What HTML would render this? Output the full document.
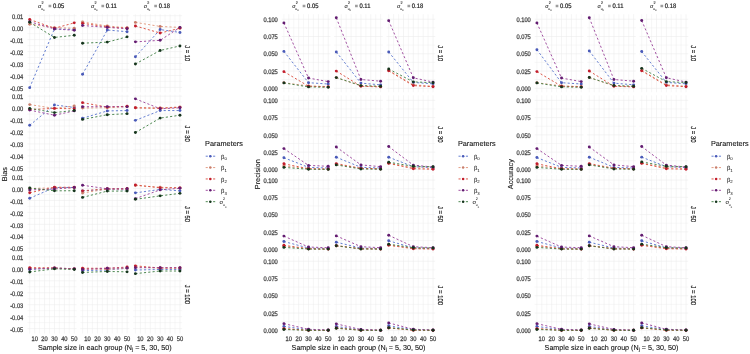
<!DOCTYPE html>
<html><head><meta charset="utf-8"><style>
html,body{margin:0;padding:0;background:#fff;width:750px;height:354px;overflow:hidden}
svg{display:block;will-change:transform}
text{font-family:"Liberation Sans",sans-serif;text-rendering:geometricPrecision}
.mj{stroke:#ebebeb;stroke-width:0.55}
.mn{stroke:#ebebeb;stroke-width:0.4}
.dl{fill:none;stroke-width:0.9;stroke-dasharray:2.15 2.15}
.tk{font-size:5.75px;fill:#4a4a4a;stroke:#4a4a4a;stroke-width:0.25}
.st{font-size:5.85px;fill:#262626;stroke:#262626;stroke-width:0.2}
.at{font-size:7.3px;fill:#111;stroke:#111;stroke-width:0.1}
.lt{font-size:7.3px;fill:#111;stroke:#111;stroke-width:0.08}
.ll{font-size:5.85px;fill:#000}
</style></head><body>
<svg width="750" height="354" viewBox="0 0 750 354">
<rect width="750" height="354" fill="#fff"/>
<line x1="27.47" y1="21.68" x2="76.48" y2="21.68" class="mn"/><line x1="27.47" y1="33.62" x2="76.48" y2="33.62" class="mn"/><line x1="27.47" y1="45.58" x2="76.48" y2="45.58" class="mn"/><line x1="27.47" y1="57.53" x2="76.48" y2="57.53" class="mn"/><line x1="27.47" y1="69.48" x2="76.48" y2="69.48" class="mn"/><line x1="27.47" y1="81.42" x2="76.48" y2="81.42" class="mn"/><line x1="29.7" y1="14.2" x2="29.7" y2="92.3" class="mn"/><line x1="39.6" y1="14.2" x2="39.6" y2="92.3" class="mn"/><line x1="49.5" y1="14.2" x2="49.5" y2="92.3" class="mn"/><line x1="59.4" y1="14.2" x2="59.4" y2="92.3" class="mn"/><line x1="69.3" y1="14.2" x2="69.3" y2="92.3" class="mn"/><line x1="27.47" y1="15.7" x2="76.48" y2="15.7" class="mj"/><line x1="27.47" y1="27.65" x2="76.48" y2="27.65" class="mj"/><line x1="27.47" y1="39.6" x2="76.48" y2="39.6" class="mj"/><line x1="27.47" y1="51.55" x2="76.48" y2="51.55" class="mj"/><line x1="27.47" y1="63.5" x2="76.48" y2="63.5" class="mj"/><line x1="27.47" y1="75.45" x2="76.48" y2="75.45" class="mj"/><line x1="27.47" y1="87.4" x2="76.48" y2="87.4" class="mj"/><line x1="34.65" y1="14.2" x2="34.65" y2="92.3" class="mj"/><line x1="44.55" y1="14.2" x2="44.55" y2="92.3" class="mj"/><line x1="54.45" y1="14.2" x2="54.45" y2="92.3" class="mj"/><line x1="64.35" y1="14.2" x2="64.35" y2="92.3" class="mj"/><line x1="74.25" y1="14.2" x2="74.25" y2="92.3" class="mj"/>
<line x1="80.32" y1="21.68" x2="129.33" y2="21.68" class="mn"/><line x1="80.32" y1="33.62" x2="129.33" y2="33.62" class="mn"/><line x1="80.32" y1="45.58" x2="129.33" y2="45.58" class="mn"/><line x1="80.32" y1="57.53" x2="129.33" y2="57.53" class="mn"/><line x1="80.32" y1="69.48" x2="129.33" y2="69.48" class="mn"/><line x1="80.32" y1="81.42" x2="129.33" y2="81.42" class="mn"/><line x1="82.55" y1="14.2" x2="82.55" y2="92.3" class="mn"/><line x1="92.45" y1="14.2" x2="92.45" y2="92.3" class="mn"/><line x1="102.35" y1="14.2" x2="102.35" y2="92.3" class="mn"/><line x1="112.25" y1="14.2" x2="112.25" y2="92.3" class="mn"/><line x1="122.15" y1="14.2" x2="122.15" y2="92.3" class="mn"/><line x1="80.32" y1="15.7" x2="129.33" y2="15.7" class="mj"/><line x1="80.32" y1="27.65" x2="129.33" y2="27.65" class="mj"/><line x1="80.32" y1="39.6" x2="129.33" y2="39.6" class="mj"/><line x1="80.32" y1="51.55" x2="129.33" y2="51.55" class="mj"/><line x1="80.32" y1="63.5" x2="129.33" y2="63.5" class="mj"/><line x1="80.32" y1="75.45" x2="129.33" y2="75.45" class="mj"/><line x1="80.32" y1="87.4" x2="129.33" y2="87.4" class="mj"/><line x1="87.5" y1="14.2" x2="87.5" y2="92.3" class="mj"/><line x1="97.4" y1="14.2" x2="97.4" y2="92.3" class="mj"/><line x1="107.3" y1="14.2" x2="107.3" y2="92.3" class="mj"/><line x1="117.2" y1="14.2" x2="117.2" y2="92.3" class="mj"/><line x1="127.1" y1="14.2" x2="127.1" y2="92.3" class="mj"/>
<line x1="133.17" y1="21.68" x2="182.18" y2="21.68" class="mn"/><line x1="133.17" y1="33.62" x2="182.18" y2="33.62" class="mn"/><line x1="133.17" y1="45.58" x2="182.18" y2="45.58" class="mn"/><line x1="133.17" y1="57.53" x2="182.18" y2="57.53" class="mn"/><line x1="133.17" y1="69.48" x2="182.18" y2="69.48" class="mn"/><line x1="133.17" y1="81.42" x2="182.18" y2="81.42" class="mn"/><line x1="135.4" y1="14.2" x2="135.4" y2="92.3" class="mn"/><line x1="145.3" y1="14.2" x2="145.3" y2="92.3" class="mn"/><line x1="155.2" y1="14.2" x2="155.2" y2="92.3" class="mn"/><line x1="165.1" y1="14.2" x2="165.1" y2="92.3" class="mn"/><line x1="175" y1="14.2" x2="175" y2="92.3" class="mn"/><line x1="133.17" y1="15.7" x2="182.18" y2="15.7" class="mj"/><line x1="133.17" y1="27.65" x2="182.18" y2="27.65" class="mj"/><line x1="133.17" y1="39.6" x2="182.18" y2="39.6" class="mj"/><line x1="133.17" y1="51.55" x2="182.18" y2="51.55" class="mj"/><line x1="133.17" y1="63.5" x2="182.18" y2="63.5" class="mj"/><line x1="133.17" y1="75.45" x2="182.18" y2="75.45" class="mj"/><line x1="133.17" y1="87.4" x2="182.18" y2="87.4" class="mj"/><line x1="140.35" y1="14.2" x2="140.35" y2="92.3" class="mj"/><line x1="150.25" y1="14.2" x2="150.25" y2="92.3" class="mj"/><line x1="160.15" y1="14.2" x2="160.15" y2="92.3" class="mj"/><line x1="170.05" y1="14.2" x2="170.05" y2="92.3" class="mj"/><line x1="179.95" y1="14.2" x2="179.95" y2="92.3" class="mj"/>
<line x1="27.47" y1="102.08" x2="76.48" y2="102.08" class="mn"/><line x1="27.47" y1="114.03" x2="76.48" y2="114.03" class="mn"/><line x1="27.47" y1="125.98" x2="76.48" y2="125.98" class="mn"/><line x1="27.47" y1="137.93" x2="76.48" y2="137.93" class="mn"/><line x1="27.47" y1="149.88" x2="76.48" y2="149.88" class="mn"/><line x1="27.47" y1="161.82" x2="76.48" y2="161.82" class="mn"/><line x1="29.7" y1="94.6" x2="29.7" y2="172.7" class="mn"/><line x1="39.6" y1="94.6" x2="39.6" y2="172.7" class="mn"/><line x1="49.5" y1="94.6" x2="49.5" y2="172.7" class="mn"/><line x1="59.4" y1="94.6" x2="59.4" y2="172.7" class="mn"/><line x1="69.3" y1="94.6" x2="69.3" y2="172.7" class="mn"/><line x1="27.47" y1="96.1" x2="76.48" y2="96.1" class="mj"/><line x1="27.47" y1="108.05" x2="76.48" y2="108.05" class="mj"/><line x1="27.47" y1="120" x2="76.48" y2="120" class="mj"/><line x1="27.47" y1="131.95" x2="76.48" y2="131.95" class="mj"/><line x1="27.47" y1="143.9" x2="76.48" y2="143.9" class="mj"/><line x1="27.47" y1="155.85" x2="76.48" y2="155.85" class="mj"/><line x1="27.47" y1="167.8" x2="76.48" y2="167.8" class="mj"/><line x1="34.65" y1="94.6" x2="34.65" y2="172.7" class="mj"/><line x1="44.55" y1="94.6" x2="44.55" y2="172.7" class="mj"/><line x1="54.45" y1="94.6" x2="54.45" y2="172.7" class="mj"/><line x1="64.35" y1="94.6" x2="64.35" y2="172.7" class="mj"/><line x1="74.25" y1="94.6" x2="74.25" y2="172.7" class="mj"/>
<line x1="80.32" y1="102.08" x2="129.33" y2="102.08" class="mn"/><line x1="80.32" y1="114.03" x2="129.33" y2="114.03" class="mn"/><line x1="80.32" y1="125.98" x2="129.33" y2="125.98" class="mn"/><line x1="80.32" y1="137.93" x2="129.33" y2="137.93" class="mn"/><line x1="80.32" y1="149.88" x2="129.33" y2="149.88" class="mn"/><line x1="80.32" y1="161.82" x2="129.33" y2="161.82" class="mn"/><line x1="82.55" y1="94.6" x2="82.55" y2="172.7" class="mn"/><line x1="92.45" y1="94.6" x2="92.45" y2="172.7" class="mn"/><line x1="102.35" y1="94.6" x2="102.35" y2="172.7" class="mn"/><line x1="112.25" y1="94.6" x2="112.25" y2="172.7" class="mn"/><line x1="122.15" y1="94.6" x2="122.15" y2="172.7" class="mn"/><line x1="80.32" y1="96.1" x2="129.33" y2="96.1" class="mj"/><line x1="80.32" y1="108.05" x2="129.33" y2="108.05" class="mj"/><line x1="80.32" y1="120" x2="129.33" y2="120" class="mj"/><line x1="80.32" y1="131.95" x2="129.33" y2="131.95" class="mj"/><line x1="80.32" y1="143.9" x2="129.33" y2="143.9" class="mj"/><line x1="80.32" y1="155.85" x2="129.33" y2="155.85" class="mj"/><line x1="80.32" y1="167.8" x2="129.33" y2="167.8" class="mj"/><line x1="87.5" y1="94.6" x2="87.5" y2="172.7" class="mj"/><line x1="97.4" y1="94.6" x2="97.4" y2="172.7" class="mj"/><line x1="107.3" y1="94.6" x2="107.3" y2="172.7" class="mj"/><line x1="117.2" y1="94.6" x2="117.2" y2="172.7" class="mj"/><line x1="127.1" y1="94.6" x2="127.1" y2="172.7" class="mj"/>
<line x1="133.17" y1="102.08" x2="182.18" y2="102.08" class="mn"/><line x1="133.17" y1="114.03" x2="182.18" y2="114.03" class="mn"/><line x1="133.17" y1="125.98" x2="182.18" y2="125.98" class="mn"/><line x1="133.17" y1="137.93" x2="182.18" y2="137.93" class="mn"/><line x1="133.17" y1="149.88" x2="182.18" y2="149.88" class="mn"/><line x1="133.17" y1="161.82" x2="182.18" y2="161.82" class="mn"/><line x1="135.4" y1="94.6" x2="135.4" y2="172.7" class="mn"/><line x1="145.3" y1="94.6" x2="145.3" y2="172.7" class="mn"/><line x1="155.2" y1="94.6" x2="155.2" y2="172.7" class="mn"/><line x1="165.1" y1="94.6" x2="165.1" y2="172.7" class="mn"/><line x1="175" y1="94.6" x2="175" y2="172.7" class="mn"/><line x1="133.17" y1="96.1" x2="182.18" y2="96.1" class="mj"/><line x1="133.17" y1="108.05" x2="182.18" y2="108.05" class="mj"/><line x1="133.17" y1="120" x2="182.18" y2="120" class="mj"/><line x1="133.17" y1="131.95" x2="182.18" y2="131.95" class="mj"/><line x1="133.17" y1="143.9" x2="182.18" y2="143.9" class="mj"/><line x1="133.17" y1="155.85" x2="182.18" y2="155.85" class="mj"/><line x1="133.17" y1="167.8" x2="182.18" y2="167.8" class="mj"/><line x1="140.35" y1="94.6" x2="140.35" y2="172.7" class="mj"/><line x1="150.25" y1="94.6" x2="150.25" y2="172.7" class="mj"/><line x1="160.15" y1="94.6" x2="160.15" y2="172.7" class="mj"/><line x1="170.05" y1="94.6" x2="170.05" y2="172.7" class="mj"/><line x1="179.95" y1="94.6" x2="179.95" y2="172.7" class="mj"/>
<line x1="27.47" y1="182.47" x2="76.48" y2="182.47" class="mn"/><line x1="27.47" y1="194.43" x2="76.48" y2="194.43" class="mn"/><line x1="27.47" y1="206.38" x2="76.48" y2="206.38" class="mn"/><line x1="27.47" y1="218.32" x2="76.48" y2="218.32" class="mn"/><line x1="27.47" y1="230.28" x2="76.48" y2="230.28" class="mn"/><line x1="27.47" y1="242.22" x2="76.48" y2="242.22" class="mn"/><line x1="29.7" y1="175" x2="29.7" y2="253.1" class="mn"/><line x1="39.6" y1="175" x2="39.6" y2="253.1" class="mn"/><line x1="49.5" y1="175" x2="49.5" y2="253.1" class="mn"/><line x1="59.4" y1="175" x2="59.4" y2="253.1" class="mn"/><line x1="69.3" y1="175" x2="69.3" y2="253.1" class="mn"/><line x1="27.47" y1="176.5" x2="76.48" y2="176.5" class="mj"/><line x1="27.47" y1="188.45" x2="76.48" y2="188.45" class="mj"/><line x1="27.47" y1="200.4" x2="76.48" y2="200.4" class="mj"/><line x1="27.47" y1="212.35" x2="76.48" y2="212.35" class="mj"/><line x1="27.47" y1="224.3" x2="76.48" y2="224.3" class="mj"/><line x1="27.47" y1="236.25" x2="76.48" y2="236.25" class="mj"/><line x1="27.47" y1="248.2" x2="76.48" y2="248.2" class="mj"/><line x1="34.65" y1="175" x2="34.65" y2="253.1" class="mj"/><line x1="44.55" y1="175" x2="44.55" y2="253.1" class="mj"/><line x1="54.45" y1="175" x2="54.45" y2="253.1" class="mj"/><line x1="64.35" y1="175" x2="64.35" y2="253.1" class="mj"/><line x1="74.25" y1="175" x2="74.25" y2="253.1" class="mj"/>
<line x1="80.32" y1="182.47" x2="129.33" y2="182.47" class="mn"/><line x1="80.32" y1="194.43" x2="129.33" y2="194.43" class="mn"/><line x1="80.32" y1="206.38" x2="129.33" y2="206.38" class="mn"/><line x1="80.32" y1="218.32" x2="129.33" y2="218.32" class="mn"/><line x1="80.32" y1="230.28" x2="129.33" y2="230.28" class="mn"/><line x1="80.32" y1="242.22" x2="129.33" y2="242.22" class="mn"/><line x1="82.55" y1="175" x2="82.55" y2="253.1" class="mn"/><line x1="92.45" y1="175" x2="92.45" y2="253.1" class="mn"/><line x1="102.35" y1="175" x2="102.35" y2="253.1" class="mn"/><line x1="112.25" y1="175" x2="112.25" y2="253.1" class="mn"/><line x1="122.15" y1="175" x2="122.15" y2="253.1" class="mn"/><line x1="80.32" y1="176.5" x2="129.33" y2="176.5" class="mj"/><line x1="80.32" y1="188.45" x2="129.33" y2="188.45" class="mj"/><line x1="80.32" y1="200.4" x2="129.33" y2="200.4" class="mj"/><line x1="80.32" y1="212.35" x2="129.33" y2="212.35" class="mj"/><line x1="80.32" y1="224.3" x2="129.33" y2="224.3" class="mj"/><line x1="80.32" y1="236.25" x2="129.33" y2="236.25" class="mj"/><line x1="80.32" y1="248.2" x2="129.33" y2="248.2" class="mj"/><line x1="87.5" y1="175" x2="87.5" y2="253.1" class="mj"/><line x1="97.4" y1="175" x2="97.4" y2="253.1" class="mj"/><line x1="107.3" y1="175" x2="107.3" y2="253.1" class="mj"/><line x1="117.2" y1="175" x2="117.2" y2="253.1" class="mj"/><line x1="127.1" y1="175" x2="127.1" y2="253.1" class="mj"/>
<line x1="133.17" y1="182.47" x2="182.18" y2="182.47" class="mn"/><line x1="133.17" y1="194.43" x2="182.18" y2="194.43" class="mn"/><line x1="133.17" y1="206.38" x2="182.18" y2="206.38" class="mn"/><line x1="133.17" y1="218.32" x2="182.18" y2="218.32" class="mn"/><line x1="133.17" y1="230.28" x2="182.18" y2="230.28" class="mn"/><line x1="133.17" y1="242.22" x2="182.18" y2="242.22" class="mn"/><line x1="135.4" y1="175" x2="135.4" y2="253.1" class="mn"/><line x1="145.3" y1="175" x2="145.3" y2="253.1" class="mn"/><line x1="155.2" y1="175" x2="155.2" y2="253.1" class="mn"/><line x1="165.1" y1="175" x2="165.1" y2="253.1" class="mn"/><line x1="175" y1="175" x2="175" y2="253.1" class="mn"/><line x1="133.17" y1="176.5" x2="182.18" y2="176.5" class="mj"/><line x1="133.17" y1="188.45" x2="182.18" y2="188.45" class="mj"/><line x1="133.17" y1="200.4" x2="182.18" y2="200.4" class="mj"/><line x1="133.17" y1="212.35" x2="182.18" y2="212.35" class="mj"/><line x1="133.17" y1="224.3" x2="182.18" y2="224.3" class="mj"/><line x1="133.17" y1="236.25" x2="182.18" y2="236.25" class="mj"/><line x1="133.17" y1="248.2" x2="182.18" y2="248.2" class="mj"/><line x1="140.35" y1="175" x2="140.35" y2="253.1" class="mj"/><line x1="150.25" y1="175" x2="150.25" y2="253.1" class="mj"/><line x1="160.15" y1="175" x2="160.15" y2="253.1" class="mj"/><line x1="170.05" y1="175" x2="170.05" y2="253.1" class="mj"/><line x1="179.95" y1="175" x2="179.95" y2="253.1" class="mj"/>
<line x1="27.47" y1="262.88" x2="76.48" y2="262.88" class="mn"/><line x1="27.47" y1="274.83" x2="76.48" y2="274.83" class="mn"/><line x1="27.47" y1="286.78" x2="76.48" y2="286.78" class="mn"/><line x1="27.47" y1="298.73" x2="76.48" y2="298.73" class="mn"/><line x1="27.47" y1="310.68" x2="76.48" y2="310.68" class="mn"/><line x1="27.47" y1="322.62" x2="76.48" y2="322.62" class="mn"/><line x1="29.7" y1="255.4" x2="29.7" y2="333.5" class="mn"/><line x1="39.6" y1="255.4" x2="39.6" y2="333.5" class="mn"/><line x1="49.5" y1="255.4" x2="49.5" y2="333.5" class="mn"/><line x1="59.4" y1="255.4" x2="59.4" y2="333.5" class="mn"/><line x1="69.3" y1="255.4" x2="69.3" y2="333.5" class="mn"/><line x1="27.47" y1="256.9" x2="76.48" y2="256.9" class="mj"/><line x1="27.47" y1="268.85" x2="76.48" y2="268.85" class="mj"/><line x1="27.47" y1="280.8" x2="76.48" y2="280.8" class="mj"/><line x1="27.47" y1="292.75" x2="76.48" y2="292.75" class="mj"/><line x1="27.47" y1="304.7" x2="76.48" y2="304.7" class="mj"/><line x1="27.47" y1="316.65" x2="76.48" y2="316.65" class="mj"/><line x1="27.47" y1="328.6" x2="76.48" y2="328.6" class="mj"/><line x1="34.65" y1="255.4" x2="34.65" y2="333.5" class="mj"/><line x1="44.55" y1="255.4" x2="44.55" y2="333.5" class="mj"/><line x1="54.45" y1="255.4" x2="54.45" y2="333.5" class="mj"/><line x1="64.35" y1="255.4" x2="64.35" y2="333.5" class="mj"/><line x1="74.25" y1="255.4" x2="74.25" y2="333.5" class="mj"/>
<line x1="80.32" y1="262.88" x2="129.33" y2="262.88" class="mn"/><line x1="80.32" y1="274.83" x2="129.33" y2="274.83" class="mn"/><line x1="80.32" y1="286.78" x2="129.33" y2="286.78" class="mn"/><line x1="80.32" y1="298.73" x2="129.33" y2="298.73" class="mn"/><line x1="80.32" y1="310.68" x2="129.33" y2="310.68" class="mn"/><line x1="80.32" y1="322.62" x2="129.33" y2="322.62" class="mn"/><line x1="82.55" y1="255.4" x2="82.55" y2="333.5" class="mn"/><line x1="92.45" y1="255.4" x2="92.45" y2="333.5" class="mn"/><line x1="102.35" y1="255.4" x2="102.35" y2="333.5" class="mn"/><line x1="112.25" y1="255.4" x2="112.25" y2="333.5" class="mn"/><line x1="122.15" y1="255.4" x2="122.15" y2="333.5" class="mn"/><line x1="80.32" y1="256.9" x2="129.33" y2="256.9" class="mj"/><line x1="80.32" y1="268.85" x2="129.33" y2="268.85" class="mj"/><line x1="80.32" y1="280.8" x2="129.33" y2="280.8" class="mj"/><line x1="80.32" y1="292.75" x2="129.33" y2="292.75" class="mj"/><line x1="80.32" y1="304.7" x2="129.33" y2="304.7" class="mj"/><line x1="80.32" y1="316.65" x2="129.33" y2="316.65" class="mj"/><line x1="80.32" y1="328.6" x2="129.33" y2="328.6" class="mj"/><line x1="87.5" y1="255.4" x2="87.5" y2="333.5" class="mj"/><line x1="97.4" y1="255.4" x2="97.4" y2="333.5" class="mj"/><line x1="107.3" y1="255.4" x2="107.3" y2="333.5" class="mj"/><line x1="117.2" y1="255.4" x2="117.2" y2="333.5" class="mj"/><line x1="127.1" y1="255.4" x2="127.1" y2="333.5" class="mj"/>
<line x1="133.17" y1="262.88" x2="182.18" y2="262.88" class="mn"/><line x1="133.17" y1="274.83" x2="182.18" y2="274.83" class="mn"/><line x1="133.17" y1="286.78" x2="182.18" y2="286.78" class="mn"/><line x1="133.17" y1="298.73" x2="182.18" y2="298.73" class="mn"/><line x1="133.17" y1="310.68" x2="182.18" y2="310.68" class="mn"/><line x1="133.17" y1="322.62" x2="182.18" y2="322.62" class="mn"/><line x1="135.4" y1="255.4" x2="135.4" y2="333.5" class="mn"/><line x1="145.3" y1="255.4" x2="145.3" y2="333.5" class="mn"/><line x1="155.2" y1="255.4" x2="155.2" y2="333.5" class="mn"/><line x1="165.1" y1="255.4" x2="165.1" y2="333.5" class="mn"/><line x1="175" y1="255.4" x2="175" y2="333.5" class="mn"/><line x1="133.17" y1="256.9" x2="182.18" y2="256.9" class="mj"/><line x1="133.17" y1="268.85" x2="182.18" y2="268.85" class="mj"/><line x1="133.17" y1="280.8" x2="182.18" y2="280.8" class="mj"/><line x1="133.17" y1="292.75" x2="182.18" y2="292.75" class="mj"/><line x1="133.17" y1="304.7" x2="182.18" y2="304.7" class="mj"/><line x1="133.17" y1="316.65" x2="182.18" y2="316.65" class="mj"/><line x1="133.17" y1="328.6" x2="182.18" y2="328.6" class="mj"/><line x1="140.35" y1="255.4" x2="140.35" y2="333.5" class="mj"/><line x1="150.25" y1="255.4" x2="150.25" y2="333.5" class="mj"/><line x1="160.15" y1="255.4" x2="160.15" y2="333.5" class="mj"/><line x1="170.05" y1="255.4" x2="170.05" y2="333.5" class="mj"/><line x1="179.95" y1="255.4" x2="179.95" y2="333.5" class="mj"/>
<polyline points="29.7,87.64 54.45,28.84 74.25,29.44" class="dl" stroke="#5470cc"/>
<polyline points="29.7,24.3 54.45,27.65 74.25,28.25" class="dl" stroke="#e09478"/>
<polyline points="29.7,19.52 54.45,28.25 74.25,22.87" class="dl" stroke="#d84838"/>
<polyline points="29.7,21.68 54.45,28.96 74.25,30.28" class="dl" stroke="#963c96"/>
<polyline points="29.7,22.27 54.45,37.45 74.25,35.3" class="dl" stroke="#3a7a3e"/>
<polyline points="82.55,74.25 107.3,30.04 127.1,31.71" class="dl" stroke="#5470cc"/>
<polyline points="82.55,22.03 107.3,25.98 127.1,27.77" class="dl" stroke="#e09478"/>
<polyline points="82.55,23.35 107.3,26.93 127.1,28.25" class="dl" stroke="#d84838"/>
<polyline points="82.55,25.5 107.3,27.41 127.1,28.73" class="dl" stroke="#963c96"/>
<polyline points="82.55,43.19 107.3,42.11 127.1,36.85" class="dl" stroke="#3a7a3e"/>
<polyline points="135.4,56.81 160.15,29.56 179.95,32.43" class="dl" stroke="#5470cc"/>
<polyline points="135.4,22.39 160.15,26.45 179.95,27.41" class="dl" stroke="#e09478"/>
<polyline points="135.4,25.98 160.15,33.03 179.95,28.25" class="dl" stroke="#d84838"/>
<polyline points="135.4,41.87 160.15,40.32 179.95,27.41" class="dl" stroke="#963c96"/>
<polyline points="135.4,63.98 160.15,50.47 179.95,45.93" class="dl" stroke="#3a7a3e"/>
<polyline points="29.7,125.26 54.45,104.94 74.25,107.45" class="dl" stroke="#5470cc"/>
<polyline points="29.7,104.58 54.45,108.41 74.25,105.9" class="dl" stroke="#e09478"/>
<polyline points="29.7,109.48 54.45,108.41 74.25,108.77" class="dl" stroke="#d84838"/>
<polyline points="29.7,110.08 54.45,115.22 74.25,110.92" class="dl" stroke="#963c96"/>
<polyline points="29.7,108.41 54.45,112.59 74.25,110.44" class="dl" stroke="#3a7a3e"/>
<polyline points="82.55,118.21 107.3,110.92 127.1,110.56" class="dl" stroke="#5470cc"/>
<polyline points="82.55,108.05 107.3,107.69 127.1,106.62" class="dl" stroke="#e09478"/>
<polyline points="82.55,102.67 107.3,107.09 127.1,106.26" class="dl" stroke="#d84838"/>
<polyline points="82.55,106.74 107.3,106.62 127.1,106.86" class="dl" stroke="#963c96"/>
<polyline points="82.55,119.4 107.3,114.74 127.1,113.67" class="dl" stroke="#3a7a3e"/>
<polyline points="135.4,120.36 160.15,110.56 179.95,110.56" class="dl" stroke="#5470cc"/>
<polyline points="135.4,107.81 160.15,108.05 179.95,106.86" class="dl" stroke="#e09478"/>
<polyline points="135.4,107.81 160.15,108.29 179.95,107.33" class="dl" stroke="#d84838"/>
<polyline points="135.4,98.85 160.15,108.77 179.95,107.81" class="dl" stroke="#963c96"/>
<polyline points="135.4,132.55 160.15,118.09 179.95,115.22" class="dl" stroke="#3a7a3e"/>
<polyline points="29.7,198.25 54.45,187.49 74.25,187.49" class="dl" stroke="#5470cc"/>
<polyline points="29.7,188.45 54.45,187.85 74.25,187.85" class="dl" stroke="#e09478"/>
<polyline points="29.7,192.75 54.45,187.25 74.25,187.25" class="dl" stroke="#d84838"/>
<polyline points="29.7,189.88 54.45,189.05 74.25,187.49" class="dl" stroke="#963c96"/>
<polyline points="29.7,187.97 54.45,190.84 74.25,190.72" class="dl" stroke="#3a7a3e"/>
<polyline points="82.55,190.84 107.3,189.41 127.1,189.88" class="dl" stroke="#5470cc"/>
<polyline points="82.55,192.99 107.3,189.05 127.1,189.41" class="dl" stroke="#e09478"/>
<polyline points="82.55,190.84 107.3,188.69 127.1,188.57" class="dl" stroke="#d84838"/>
<polyline points="82.55,185.22 107.3,188.81 127.1,188.81" class="dl" stroke="#963c96"/>
<polyline points="82.55,197.41 107.3,191.08 127.1,191.08" class="dl" stroke="#3a7a3e"/>
<polyline points="135.4,192.87 160.15,189.41 179.95,190.84" class="dl" stroke="#5470cc"/>
<polyline points="135.4,185.46 160.15,187.25 179.95,187.85" class="dl" stroke="#e09478"/>
<polyline points="135.4,184.98 160.15,187.85 179.95,187.85" class="dl" stroke="#d84838"/>
<polyline points="135.4,198.61 160.15,189.88 179.95,188.21" class="dl" stroke="#963c96"/>
<polyline points="135.4,199.32 160.15,195.86 179.95,193.35" class="dl" stroke="#3a7a3e"/>
<polyline points="29.7,269.45 54.45,267.89 74.25,268.85" class="dl" stroke="#5470cc"/>
<polyline points="29.7,268.49 54.45,268.25 74.25,268.85" class="dl" stroke="#e09478"/>
<polyline points="29.7,267.66 54.45,267.89 74.25,268.85" class="dl" stroke="#d84838"/>
<polyline points="29.7,269.09 54.45,268.25 74.25,268.85" class="dl" stroke="#963c96"/>
<polyline points="29.7,271.96 54.45,268.85 74.25,269.45" class="dl" stroke="#3a7a3e"/>
<polyline points="82.55,270.64 107.3,270.05 127.1,268.25" class="dl" stroke="#5470cc"/>
<polyline points="82.55,268.85 107.3,269.45 127.1,268.25" class="dl" stroke="#e09478"/>
<polyline points="82.55,268.25 107.3,268.25 127.1,267.06" class="dl" stroke="#d84838"/>
<polyline points="82.55,269.45 107.3,268.25 127.1,267.89" class="dl" stroke="#963c96"/>
<polyline points="82.55,272.44 107.3,271.48 127.1,271.84" class="dl" stroke="#3a7a3e"/>
<polyline points="135.4,270.05 160.15,269.45 179.95,269.45" class="dl" stroke="#5470cc"/>
<polyline points="135.4,267.06 160.15,268.01 179.95,268.01" class="dl" stroke="#e09478"/>
<polyline points="135.4,265.86 160.15,268.01 179.95,268.01" class="dl" stroke="#d84838"/>
<polyline points="135.4,267.66 160.15,267.66 179.95,267.66" class="dl" stroke="#963c96"/>
<polyline points="135.4,273.63 160.15,271 179.95,271" class="dl" stroke="#3a7a3e"/>
<circle cx="29.7" cy="87.64" r="1.45" fill="#4a5ab8"/>
<circle cx="54.45" cy="28.84" r="1.45" fill="#4a5ab8"/>
<circle cx="74.25" cy="29.44" r="1.45" fill="#4a5ab8"/>
<circle cx="29.7" cy="24.3" r="1.45" fill="#c87e6c"/>
<circle cx="54.45" cy="27.65" r="1.45" fill="#c87e6c"/>
<circle cx="74.25" cy="28.25" r="1.45" fill="#c87e6c"/>
<circle cx="29.7" cy="19.52" r="1.45" fill="#c21c2c"/>
<circle cx="54.45" cy="28.25" r="1.45" fill="#c21c2c"/>
<circle cx="74.25" cy="22.87" r="1.45" fill="#c21c2c"/>
<circle cx="29.7" cy="21.68" r="1.45" fill="#621c70"/>
<circle cx="54.45" cy="28.96" r="1.45" fill="#621c70"/>
<circle cx="74.25" cy="30.28" r="1.45" fill="#621c70"/>
<circle cx="29.7" cy="22.27" r="1.45" fill="#15341c"/>
<circle cx="54.45" cy="37.45" r="1.45" fill="#15341c"/>
<circle cx="74.25" cy="35.3" r="1.45" fill="#15341c"/>
<circle cx="82.55" cy="74.25" r="1.45" fill="#4a5ab8"/>
<circle cx="107.3" cy="30.04" r="1.45" fill="#4a5ab8"/>
<circle cx="127.1" cy="31.71" r="1.45" fill="#4a5ab8"/>
<circle cx="82.55" cy="22.03" r="1.45" fill="#c87e6c"/>
<circle cx="107.3" cy="25.98" r="1.45" fill="#c87e6c"/>
<circle cx="127.1" cy="27.77" r="1.45" fill="#c87e6c"/>
<circle cx="82.55" cy="23.35" r="1.45" fill="#c21c2c"/>
<circle cx="107.3" cy="26.93" r="1.45" fill="#c21c2c"/>
<circle cx="127.1" cy="28.25" r="1.45" fill="#c21c2c"/>
<circle cx="82.55" cy="25.5" r="1.45" fill="#621c70"/>
<circle cx="107.3" cy="27.41" r="1.45" fill="#621c70"/>
<circle cx="127.1" cy="28.73" r="1.45" fill="#621c70"/>
<circle cx="82.55" cy="43.19" r="1.45" fill="#15341c"/>
<circle cx="107.3" cy="42.11" r="1.45" fill="#15341c"/>
<circle cx="127.1" cy="36.85" r="1.45" fill="#15341c"/>
<circle cx="135.4" cy="56.81" r="1.45" fill="#4a5ab8"/>
<circle cx="160.15" cy="29.56" r="1.45" fill="#4a5ab8"/>
<circle cx="179.95" cy="32.43" r="1.45" fill="#4a5ab8"/>
<circle cx="135.4" cy="22.39" r="1.45" fill="#c87e6c"/>
<circle cx="160.15" cy="26.45" r="1.45" fill="#c87e6c"/>
<circle cx="179.95" cy="27.41" r="1.45" fill="#c87e6c"/>
<circle cx="135.4" cy="25.98" r="1.45" fill="#c21c2c"/>
<circle cx="160.15" cy="33.03" r="1.45" fill="#c21c2c"/>
<circle cx="179.95" cy="28.25" r="1.45" fill="#c21c2c"/>
<circle cx="135.4" cy="41.87" r="1.45" fill="#621c70"/>
<circle cx="160.15" cy="40.32" r="1.45" fill="#621c70"/>
<circle cx="179.95" cy="27.41" r="1.45" fill="#621c70"/>
<circle cx="135.4" cy="63.98" r="1.45" fill="#15341c"/>
<circle cx="160.15" cy="50.47" r="1.45" fill="#15341c"/>
<circle cx="179.95" cy="45.93" r="1.45" fill="#15341c"/>
<circle cx="29.7" cy="125.26" r="1.45" fill="#4a5ab8"/>
<circle cx="54.45" cy="104.94" r="1.45" fill="#4a5ab8"/>
<circle cx="74.25" cy="107.45" r="1.45" fill="#4a5ab8"/>
<circle cx="29.7" cy="104.58" r="1.45" fill="#c87e6c"/>
<circle cx="54.45" cy="108.41" r="1.45" fill="#c87e6c"/>
<circle cx="74.25" cy="105.9" r="1.45" fill="#c87e6c"/>
<circle cx="29.7" cy="109.48" r="1.45" fill="#c21c2c"/>
<circle cx="54.45" cy="108.41" r="1.45" fill="#c21c2c"/>
<circle cx="74.25" cy="108.77" r="1.45" fill="#c21c2c"/>
<circle cx="29.7" cy="110.08" r="1.45" fill="#621c70"/>
<circle cx="54.45" cy="115.22" r="1.45" fill="#621c70"/>
<circle cx="74.25" cy="110.92" r="1.45" fill="#621c70"/>
<circle cx="29.7" cy="108.41" r="1.45" fill="#15341c"/>
<circle cx="54.45" cy="112.59" r="1.45" fill="#15341c"/>
<circle cx="74.25" cy="110.44" r="1.45" fill="#15341c"/>
<circle cx="82.55" cy="118.21" r="1.45" fill="#4a5ab8"/>
<circle cx="107.3" cy="110.92" r="1.45" fill="#4a5ab8"/>
<circle cx="127.1" cy="110.56" r="1.45" fill="#4a5ab8"/>
<circle cx="82.55" cy="108.05" r="1.45" fill="#c87e6c"/>
<circle cx="107.3" cy="107.69" r="1.45" fill="#c87e6c"/>
<circle cx="127.1" cy="106.62" r="1.45" fill="#c87e6c"/>
<circle cx="82.55" cy="102.67" r="1.45" fill="#c21c2c"/>
<circle cx="107.3" cy="107.09" r="1.45" fill="#c21c2c"/>
<circle cx="127.1" cy="106.26" r="1.45" fill="#c21c2c"/>
<circle cx="82.55" cy="106.74" r="1.45" fill="#621c70"/>
<circle cx="107.3" cy="106.62" r="1.45" fill="#621c70"/>
<circle cx="127.1" cy="106.86" r="1.45" fill="#621c70"/>
<circle cx="82.55" cy="119.4" r="1.45" fill="#15341c"/>
<circle cx="107.3" cy="114.74" r="1.45" fill="#15341c"/>
<circle cx="127.1" cy="113.67" r="1.45" fill="#15341c"/>
<circle cx="135.4" cy="120.36" r="1.45" fill="#4a5ab8"/>
<circle cx="160.15" cy="110.56" r="1.45" fill="#4a5ab8"/>
<circle cx="179.95" cy="110.56" r="1.45" fill="#4a5ab8"/>
<circle cx="135.4" cy="107.81" r="1.45" fill="#c87e6c"/>
<circle cx="160.15" cy="108.05" r="1.45" fill="#c87e6c"/>
<circle cx="179.95" cy="106.86" r="1.45" fill="#c87e6c"/>
<circle cx="135.4" cy="107.81" r="1.45" fill="#c21c2c"/>
<circle cx="160.15" cy="108.29" r="1.45" fill="#c21c2c"/>
<circle cx="179.95" cy="107.33" r="1.45" fill="#c21c2c"/>
<circle cx="135.4" cy="98.85" r="1.45" fill="#621c70"/>
<circle cx="160.15" cy="108.77" r="1.45" fill="#621c70"/>
<circle cx="179.95" cy="107.81" r="1.45" fill="#621c70"/>
<circle cx="135.4" cy="132.55" r="1.45" fill="#15341c"/>
<circle cx="160.15" cy="118.09" r="1.45" fill="#15341c"/>
<circle cx="179.95" cy="115.22" r="1.45" fill="#15341c"/>
<circle cx="29.7" cy="198.25" r="1.45" fill="#4a5ab8"/>
<circle cx="54.45" cy="187.49" r="1.45" fill="#4a5ab8"/>
<circle cx="74.25" cy="187.49" r="1.45" fill="#4a5ab8"/>
<circle cx="29.7" cy="188.45" r="1.45" fill="#c87e6c"/>
<circle cx="54.45" cy="187.85" r="1.45" fill="#c87e6c"/>
<circle cx="74.25" cy="187.85" r="1.45" fill="#c87e6c"/>
<circle cx="29.7" cy="192.75" r="1.45" fill="#c21c2c"/>
<circle cx="54.45" cy="187.25" r="1.45" fill="#c21c2c"/>
<circle cx="74.25" cy="187.25" r="1.45" fill="#c21c2c"/>
<circle cx="29.7" cy="189.88" r="1.45" fill="#621c70"/>
<circle cx="54.45" cy="189.05" r="1.45" fill="#621c70"/>
<circle cx="74.25" cy="187.49" r="1.45" fill="#621c70"/>
<circle cx="29.7" cy="187.97" r="1.45" fill="#15341c"/>
<circle cx="54.45" cy="190.84" r="1.45" fill="#15341c"/>
<circle cx="74.25" cy="190.72" r="1.45" fill="#15341c"/>
<circle cx="82.55" cy="190.84" r="1.45" fill="#4a5ab8"/>
<circle cx="107.3" cy="189.41" r="1.45" fill="#4a5ab8"/>
<circle cx="127.1" cy="189.88" r="1.45" fill="#4a5ab8"/>
<circle cx="82.55" cy="192.99" r="1.45" fill="#c87e6c"/>
<circle cx="107.3" cy="189.05" r="1.45" fill="#c87e6c"/>
<circle cx="127.1" cy="189.41" r="1.45" fill="#c87e6c"/>
<circle cx="82.55" cy="190.84" r="1.45" fill="#c21c2c"/>
<circle cx="107.3" cy="188.69" r="1.45" fill="#c21c2c"/>
<circle cx="127.1" cy="188.57" r="1.45" fill="#c21c2c"/>
<circle cx="82.55" cy="185.22" r="1.45" fill="#621c70"/>
<circle cx="107.3" cy="188.81" r="1.45" fill="#621c70"/>
<circle cx="127.1" cy="188.81" r="1.45" fill="#621c70"/>
<circle cx="82.55" cy="197.41" r="1.45" fill="#15341c"/>
<circle cx="107.3" cy="191.08" r="1.45" fill="#15341c"/>
<circle cx="127.1" cy="191.08" r="1.45" fill="#15341c"/>
<circle cx="135.4" cy="192.87" r="1.45" fill="#4a5ab8"/>
<circle cx="160.15" cy="189.41" r="1.45" fill="#4a5ab8"/>
<circle cx="179.95" cy="190.84" r="1.45" fill="#4a5ab8"/>
<circle cx="135.4" cy="185.46" r="1.45" fill="#c87e6c"/>
<circle cx="160.15" cy="187.25" r="1.45" fill="#c87e6c"/>
<circle cx="179.95" cy="187.85" r="1.45" fill="#c87e6c"/>
<circle cx="135.4" cy="184.98" r="1.45" fill="#c21c2c"/>
<circle cx="160.15" cy="187.85" r="1.45" fill="#c21c2c"/>
<circle cx="179.95" cy="187.85" r="1.45" fill="#c21c2c"/>
<circle cx="135.4" cy="198.61" r="1.45" fill="#621c70"/>
<circle cx="160.15" cy="189.88" r="1.45" fill="#621c70"/>
<circle cx="179.95" cy="188.21" r="1.45" fill="#621c70"/>
<circle cx="135.4" cy="199.32" r="1.45" fill="#15341c"/>
<circle cx="160.15" cy="195.86" r="1.45" fill="#15341c"/>
<circle cx="179.95" cy="193.35" r="1.45" fill="#15341c"/>
<circle cx="29.7" cy="269.45" r="1.45" fill="#4a5ab8"/>
<circle cx="54.45" cy="267.89" r="1.45" fill="#4a5ab8"/>
<circle cx="74.25" cy="268.85" r="1.45" fill="#4a5ab8"/>
<circle cx="29.7" cy="268.49" r="1.45" fill="#c87e6c"/>
<circle cx="54.45" cy="268.25" r="1.45" fill="#c87e6c"/>
<circle cx="74.25" cy="268.85" r="1.45" fill="#c87e6c"/>
<circle cx="29.7" cy="267.66" r="1.45" fill="#c21c2c"/>
<circle cx="54.45" cy="267.89" r="1.45" fill="#c21c2c"/>
<circle cx="74.25" cy="268.85" r="1.45" fill="#c21c2c"/>
<circle cx="29.7" cy="269.09" r="1.45" fill="#621c70"/>
<circle cx="54.45" cy="268.25" r="1.45" fill="#621c70"/>
<circle cx="74.25" cy="268.85" r="1.45" fill="#621c70"/>
<circle cx="29.7" cy="271.96" r="1.45" fill="#15341c"/>
<circle cx="54.45" cy="268.85" r="1.45" fill="#15341c"/>
<circle cx="74.25" cy="269.45" r="1.45" fill="#15341c"/>
<circle cx="82.55" cy="270.64" r="1.45" fill="#4a5ab8"/>
<circle cx="107.3" cy="270.05" r="1.45" fill="#4a5ab8"/>
<circle cx="127.1" cy="268.25" r="1.45" fill="#4a5ab8"/>
<circle cx="82.55" cy="268.85" r="1.45" fill="#c87e6c"/>
<circle cx="107.3" cy="269.45" r="1.45" fill="#c87e6c"/>
<circle cx="127.1" cy="268.25" r="1.45" fill="#c87e6c"/>
<circle cx="82.55" cy="268.25" r="1.45" fill="#c21c2c"/>
<circle cx="107.3" cy="268.25" r="1.45" fill="#c21c2c"/>
<circle cx="127.1" cy="267.06" r="1.45" fill="#c21c2c"/>
<circle cx="82.55" cy="269.45" r="1.45" fill="#621c70"/>
<circle cx="107.3" cy="268.25" r="1.45" fill="#621c70"/>
<circle cx="127.1" cy="267.89" r="1.45" fill="#621c70"/>
<circle cx="82.55" cy="272.44" r="1.45" fill="#15341c"/>
<circle cx="107.3" cy="271.48" r="1.45" fill="#15341c"/>
<circle cx="127.1" cy="271.84" r="1.45" fill="#15341c"/>
<circle cx="135.4" cy="270.05" r="1.45" fill="#4a5ab8"/>
<circle cx="160.15" cy="269.45" r="1.45" fill="#4a5ab8"/>
<circle cx="179.95" cy="269.45" r="1.45" fill="#4a5ab8"/>
<circle cx="135.4" cy="267.06" r="1.45" fill="#c87e6c"/>
<circle cx="160.15" cy="268.01" r="1.45" fill="#c87e6c"/>
<circle cx="179.95" cy="268.01" r="1.45" fill="#c87e6c"/>
<circle cx="135.4" cy="265.86" r="1.45" fill="#c21c2c"/>
<circle cx="160.15" cy="268.01" r="1.45" fill="#c21c2c"/>
<circle cx="179.95" cy="268.01" r="1.45" fill="#c21c2c"/>
<circle cx="135.4" cy="267.66" r="1.45" fill="#621c70"/>
<circle cx="160.15" cy="267.66" r="1.45" fill="#621c70"/>
<circle cx="179.95" cy="267.66" r="1.45" fill="#621c70"/>
<circle cx="135.4" cy="273.63" r="1.45" fill="#15341c"/>
<circle cx="160.15" cy="271" r="1.45" fill="#15341c"/>
<circle cx="179.95" cy="271" r="1.45" fill="#15341c"/>
<text transform="translate(23.3,16.55) scale(1,1.15)" class="tk" text-anchor="end" y="2.05">0.01</text>
<text transform="translate(23.3,28.5) scale(1,1.15)" class="tk" text-anchor="end" y="2.05">0.00</text>
<text transform="translate(23.3,40.45) scale(1,1.15)" class="tk" text-anchor="end" y="2.05">-0.01</text>
<text transform="translate(23.3,52.4) scale(1,1.15)" class="tk" text-anchor="end" y="2.05">-0.02</text>
<text transform="translate(23.3,64.35) scale(1,1.15)" class="tk" text-anchor="end" y="2.05">-0.03</text>
<text transform="translate(23.3,76.3) scale(1,1.15)" class="tk" text-anchor="end" y="2.05">-0.04</text>
<text transform="translate(23.3,88.25) scale(1,1.15)" class="tk" text-anchor="end" y="2.05">-0.05</text>
<text transform="translate(23.3,96.95) scale(1,1.15)" class="tk" text-anchor="end" y="2.05">0.01</text>
<text transform="translate(23.3,108.9) scale(1,1.15)" class="tk" text-anchor="end" y="2.05">0.00</text>
<text transform="translate(23.3,120.85) scale(1,1.15)" class="tk" text-anchor="end" y="2.05">-0.01</text>
<text transform="translate(23.3,132.8) scale(1,1.15)" class="tk" text-anchor="end" y="2.05">-0.02</text>
<text transform="translate(23.3,144.75) scale(1,1.15)" class="tk" text-anchor="end" y="2.05">-0.03</text>
<text transform="translate(23.3,156.7) scale(1,1.15)" class="tk" text-anchor="end" y="2.05">-0.04</text>
<text transform="translate(23.3,168.65) scale(1,1.15)" class="tk" text-anchor="end" y="2.05">-0.05</text>
<text transform="translate(23.3,177.35) scale(1,1.15)" class="tk" text-anchor="end" y="2.05">0.01</text>
<text transform="translate(23.3,189.3) scale(1,1.15)" class="tk" text-anchor="end" y="2.05">0.00</text>
<text transform="translate(23.3,201.25) scale(1,1.15)" class="tk" text-anchor="end" y="2.05">-0.01</text>
<text transform="translate(23.3,213.2) scale(1,1.15)" class="tk" text-anchor="end" y="2.05">-0.02</text>
<text transform="translate(23.3,225.15) scale(1,1.15)" class="tk" text-anchor="end" y="2.05">-0.03</text>
<text transform="translate(23.3,237.1) scale(1,1.15)" class="tk" text-anchor="end" y="2.05">-0.04</text>
<text transform="translate(23.3,249.05) scale(1,1.15)" class="tk" text-anchor="end" y="2.05">-0.05</text>
<text transform="translate(23.3,257.75) scale(1,1.15)" class="tk" text-anchor="end" y="2.05">0.01</text>
<text transform="translate(23.3,269.7) scale(1,1.15)" class="tk" text-anchor="end" y="2.05">0.00</text>
<text transform="translate(23.3,281.65) scale(1,1.15)" class="tk" text-anchor="end" y="2.05">-0.01</text>
<text transform="translate(23.3,293.6) scale(1,1.15)" class="tk" text-anchor="end" y="2.05">-0.02</text>
<text transform="translate(23.3,305.55) scale(1,1.15)" class="tk" text-anchor="end" y="2.05">-0.03</text>
<text transform="translate(23.3,317.5) scale(1,1.15)" class="tk" text-anchor="end" y="2.05">-0.04</text>
<text transform="translate(23.3,329.45) scale(1,1.15)" class="tk" text-anchor="end" y="2.05">-0.05</text>
<text transform="translate(34.65,338.9) scale(1,1.15)" class="tk" text-anchor="middle" y="2.05">10</text>
<text transform="translate(44.55,338.9) scale(1,1.15)" class="tk" text-anchor="middle" y="2.05">20</text>
<text transform="translate(54.45,338.9) scale(1,1.15)" class="tk" text-anchor="middle" y="2.05">30</text>
<text transform="translate(64.35,338.9) scale(1,1.15)" class="tk" text-anchor="middle" y="2.05">40</text>
<text transform="translate(74.25,338.9) scale(1,1.15)" class="tk" text-anchor="middle" y="2.05">50</text>
<text transform="translate(87.5,338.9) scale(1,1.15)" class="tk" text-anchor="middle" y="2.05">10</text>
<text transform="translate(97.4,338.9) scale(1,1.15)" class="tk" text-anchor="middle" y="2.05">20</text>
<text transform="translate(107.3,338.9) scale(1,1.15)" class="tk" text-anchor="middle" y="2.05">30</text>
<text transform="translate(117.2,338.9) scale(1,1.15)" class="tk" text-anchor="middle" y="2.05">40</text>
<text transform="translate(127.1,338.9) scale(1,1.15)" class="tk" text-anchor="middle" y="2.05">50</text>
<text transform="translate(140.35,338.9) scale(1,1.15)" class="tk" text-anchor="middle" y="2.05">10</text>
<text transform="translate(150.25,338.9) scale(1,1.15)" class="tk" text-anchor="middle" y="2.05">20</text>
<text transform="translate(160.15,338.9) scale(1,1.15)" class="tk" text-anchor="middle" y="2.05">30</text>
<text transform="translate(170.05,338.9) scale(1,1.15)" class="tk" text-anchor="middle" y="2.05">40</text>
<text transform="translate(179.95,338.9) scale(1,1.15)" class="tk" text-anchor="middle" y="2.05">50</text>
<g transform="translate(51.97,0)"><text x="-13.9" y="7.6" class="st" style="font-size:5.4px;stroke-width:0.1">σ</text><text x="-10.4" y="3.6" class="st" style="font-size:3.7px;stroke-width:0.08">2</text><text x="-10.7" y="10.4" class="st" style="font-size:3.3px;stroke-width:0.05">u</text><text x="-8.9" y="11.2" class="st" style="font-size:2.5px;stroke-width:0.05">0</text><path d="M-3.4 5.3H-0.7M-3.4 6.7H-0.7" stroke="#333" stroke-width="0.6"/><text transform="translate(1.0,5.8) scale(1,1.12)" y="2.1" class="st">0.05</text></g>
<g transform="translate(104.82,0)"><text x="-13.9" y="7.6" class="st" style="font-size:5.4px;stroke-width:0.1">σ</text><text x="-10.4" y="3.6" class="st" style="font-size:3.7px;stroke-width:0.08">2</text><text x="-10.7" y="10.4" class="st" style="font-size:3.3px;stroke-width:0.05">u</text><text x="-8.9" y="11.2" class="st" style="font-size:2.5px;stroke-width:0.05">0</text><path d="M-3.4 5.3H-0.7M-3.4 6.7H-0.7" stroke="#333" stroke-width="0.6"/><text transform="translate(1.0,5.8) scale(1,1.12)" y="2.1" class="st">0.11</text></g>
<g transform="translate(157.68,0)"><text x="-13.9" y="7.6" class="st" style="font-size:5.4px;stroke-width:0.1">σ</text><text x="-10.4" y="3.6" class="st" style="font-size:3.7px;stroke-width:0.08">2</text><text x="-10.7" y="10.4" class="st" style="font-size:3.3px;stroke-width:0.05">u</text><text x="-8.9" y="11.2" class="st" style="font-size:2.5px;stroke-width:0.05">0</text><path d="M-3.4 5.3H-0.7M-3.4 6.7H-0.7" stroke="#333" stroke-width="0.6"/><text transform="translate(1.0,5.8) scale(1,1.12)" y="2.1" class="st">0.18</text></g>
<text transform="translate(185.2,53.25) rotate(90) scale(1,1.22)" class="st" text-anchor="middle" y="0">J = 10</text>
<text transform="translate(185.2,133.65) rotate(90) scale(1,1.22)" class="st" text-anchor="middle" y="0">J = 30</text>
<text transform="translate(185.2,214.05) rotate(90) scale(1,1.22)" class="st" text-anchor="middle" y="0">J = 50</text>
<text transform="translate(185.2,294.45) rotate(90) scale(1,1.22)" class="st" text-anchor="middle" y="0">J = 100</text>
<text transform="translate(6.7,174.2) rotate(-90)" class="at" text-anchor="middle">Bias</text>
<text x="104.83" y="349.9" class="at" style="font-size:7.18px" text-anchor="middle">Sample size in each group (N<tspan font-size="5" dy="1.5">j</tspan><tspan dy="-1.5"> = 5, 30, 50)</tspan></text>
<text x="205.1" y="146.3" class="lt">Parameters</text>
<line x1="205.7" y1="156.2" x2="215.2" y2="156.2" class="dl" style="stroke-width:0.9;stroke-dasharray:2.1 1.6" stroke="#5470cc"/>
<circle cx="210.3" cy="156.2" r="1.2" fill="#4a5ab8"/>
<text x="221.1" y="158.9" class="ll">β<tspan font-size="4.3" dy="1.5">0</tspan></text>
<line x1="205.7" y1="167.57" x2="215.2" y2="167.57" class="dl" style="stroke-width:0.9;stroke-dasharray:2.1 1.6" stroke="#e09478"/>
<circle cx="210.3" cy="167.57" r="1.2" fill="#c87e6c"/>
<text x="221.1" y="170.27" class="ll">β<tspan font-size="4.3" dy="1.5">1</tspan></text>
<line x1="205.7" y1="178.94" x2="215.2" y2="178.94" class="dl" style="stroke-width:0.9;stroke-dasharray:2.1 1.6" stroke="#d84838"/>
<circle cx="210.3" cy="178.94" r="1.2" fill="#c21c2c"/>
<text x="221.1" y="181.64" class="ll">β<tspan font-size="4.3" dy="1.5">2</tspan></text>
<line x1="205.7" y1="190.31" x2="215.2" y2="190.31" class="dl" style="stroke-width:0.9;stroke-dasharray:2.1 1.6" stroke="#963c96"/>
<circle cx="210.3" cy="190.31" r="1.2" fill="#621c70"/>
<text x="221.1" y="193.01" class="ll">β<tspan font-size="4.3" dy="1.5">3</tspan></text>
<line x1="205.7" y1="201.68" x2="215.2" y2="201.68" class="dl" style="stroke-width:0.9;stroke-dasharray:2.1 1.6" stroke="#3a7a3e"/>
<circle cx="210.3" cy="201.68" r="1.2" fill="#15341c"/>
<text x="219.6" y="204.08" class="ll">σ</text><text x="223" y="199.98" class="ll" style="font-size:3.7px">2</text><text x="223" y="206.28" class="ll" style="font-size:3.3px">u</text><text x="224.9" y="208.18" class="ll" style="font-size:2.5px">0</text>
<line x1="281.68" y1="27.84" x2="330.44" y2="27.84" class="mn"/><line x1="281.68" y1="45.11" x2="330.44" y2="45.11" class="mn"/><line x1="281.68" y1="62.39" x2="330.44" y2="62.39" class="mn"/><line x1="281.68" y1="79.66" x2="330.44" y2="79.66" class="mn"/><line x1="283.9" y1="14.2" x2="283.9" y2="92.3" class="mn"/><line x1="293.75" y1="14.2" x2="293.75" y2="92.3" class="mn"/><line x1="303.6" y1="14.2" x2="303.6" y2="92.3" class="mn"/><line x1="313.45" y1="14.2" x2="313.45" y2="92.3" class="mn"/><line x1="323.3" y1="14.2" x2="323.3" y2="92.3" class="mn"/><line x1="281.68" y1="19.2" x2="330.44" y2="19.2" class="mj"/><line x1="281.68" y1="36.48" x2="330.44" y2="36.48" class="mj"/><line x1="281.68" y1="53.75" x2="330.44" y2="53.75" class="mj"/><line x1="281.68" y1="71.02" x2="330.44" y2="71.02" class="mj"/><line x1="281.68" y1="88.3" x2="330.44" y2="88.3" class="mj"/><line x1="288.82" y1="14.2" x2="288.82" y2="92.3" class="mj"/><line x1="298.67" y1="14.2" x2="298.67" y2="92.3" class="mj"/><line x1="308.52" y1="14.2" x2="308.52" y2="92.3" class="mj"/><line x1="318.38" y1="14.2" x2="318.38" y2="92.3" class="mj"/><line x1="328.22" y1="14.2" x2="328.22" y2="92.3" class="mj"/>
<line x1="334.08" y1="27.84" x2="382.84" y2="27.84" class="mn"/><line x1="334.08" y1="45.11" x2="382.84" y2="45.11" class="mn"/><line x1="334.08" y1="62.39" x2="382.84" y2="62.39" class="mn"/><line x1="334.08" y1="79.66" x2="382.84" y2="79.66" class="mn"/><line x1="336.3" y1="14.2" x2="336.3" y2="92.3" class="mn"/><line x1="346.15" y1="14.2" x2="346.15" y2="92.3" class="mn"/><line x1="356" y1="14.2" x2="356" y2="92.3" class="mn"/><line x1="365.85" y1="14.2" x2="365.85" y2="92.3" class="mn"/><line x1="375.7" y1="14.2" x2="375.7" y2="92.3" class="mn"/><line x1="334.08" y1="19.2" x2="382.84" y2="19.2" class="mj"/><line x1="334.08" y1="36.48" x2="382.84" y2="36.48" class="mj"/><line x1="334.08" y1="53.75" x2="382.84" y2="53.75" class="mj"/><line x1="334.08" y1="71.02" x2="382.84" y2="71.02" class="mj"/><line x1="334.08" y1="88.3" x2="382.84" y2="88.3" class="mj"/><line x1="341.23" y1="14.2" x2="341.23" y2="92.3" class="mj"/><line x1="351.07" y1="14.2" x2="351.07" y2="92.3" class="mj"/><line x1="360.93" y1="14.2" x2="360.93" y2="92.3" class="mj"/><line x1="370.78" y1="14.2" x2="370.78" y2="92.3" class="mj"/><line x1="380.62" y1="14.2" x2="380.62" y2="92.3" class="mj"/>
<line x1="386.48" y1="27.84" x2="435.24" y2="27.84" class="mn"/><line x1="386.48" y1="45.11" x2="435.24" y2="45.11" class="mn"/><line x1="386.48" y1="62.39" x2="435.24" y2="62.39" class="mn"/><line x1="386.48" y1="79.66" x2="435.24" y2="79.66" class="mn"/><line x1="388.7" y1="14.2" x2="388.7" y2="92.3" class="mn"/><line x1="398.55" y1="14.2" x2="398.55" y2="92.3" class="mn"/><line x1="408.4" y1="14.2" x2="408.4" y2="92.3" class="mn"/><line x1="418.25" y1="14.2" x2="418.25" y2="92.3" class="mn"/><line x1="428.1" y1="14.2" x2="428.1" y2="92.3" class="mn"/><line x1="386.48" y1="19.2" x2="435.24" y2="19.2" class="mj"/><line x1="386.48" y1="36.48" x2="435.24" y2="36.48" class="mj"/><line x1="386.48" y1="53.75" x2="435.24" y2="53.75" class="mj"/><line x1="386.48" y1="71.02" x2="435.24" y2="71.02" class="mj"/><line x1="386.48" y1="88.3" x2="435.24" y2="88.3" class="mj"/><line x1="393.62" y1="14.2" x2="393.62" y2="92.3" class="mj"/><line x1="403.47" y1="14.2" x2="403.47" y2="92.3" class="mj"/><line x1="413.32" y1="14.2" x2="413.32" y2="92.3" class="mj"/><line x1="423.18" y1="14.2" x2="423.18" y2="92.3" class="mj"/><line x1="433.02" y1="14.2" x2="433.02" y2="92.3" class="mj"/>
<line x1="281.68" y1="108.94" x2="330.44" y2="108.94" class="mn"/><line x1="281.68" y1="126.21" x2="330.44" y2="126.21" class="mn"/><line x1="281.68" y1="143.49" x2="330.44" y2="143.49" class="mn"/><line x1="281.68" y1="160.76" x2="330.44" y2="160.76" class="mn"/><line x1="283.9" y1="95.3" x2="283.9" y2="173.4" class="mn"/><line x1="293.75" y1="95.3" x2="293.75" y2="173.4" class="mn"/><line x1="303.6" y1="95.3" x2="303.6" y2="173.4" class="mn"/><line x1="313.45" y1="95.3" x2="313.45" y2="173.4" class="mn"/><line x1="323.3" y1="95.3" x2="323.3" y2="173.4" class="mn"/><line x1="281.68" y1="100.3" x2="330.44" y2="100.3" class="mj"/><line x1="281.68" y1="117.57" x2="330.44" y2="117.57" class="mj"/><line x1="281.68" y1="134.85" x2="330.44" y2="134.85" class="mj"/><line x1="281.68" y1="152.12" x2="330.44" y2="152.12" class="mj"/><line x1="281.68" y1="169.4" x2="330.44" y2="169.4" class="mj"/><line x1="288.82" y1="95.3" x2="288.82" y2="173.4" class="mj"/><line x1="298.67" y1="95.3" x2="298.67" y2="173.4" class="mj"/><line x1="308.52" y1="95.3" x2="308.52" y2="173.4" class="mj"/><line x1="318.38" y1="95.3" x2="318.38" y2="173.4" class="mj"/><line x1="328.22" y1="95.3" x2="328.22" y2="173.4" class="mj"/>
<line x1="334.08" y1="108.94" x2="382.84" y2="108.94" class="mn"/><line x1="334.08" y1="126.21" x2="382.84" y2="126.21" class="mn"/><line x1="334.08" y1="143.49" x2="382.84" y2="143.49" class="mn"/><line x1="334.08" y1="160.76" x2="382.84" y2="160.76" class="mn"/><line x1="336.3" y1="95.3" x2="336.3" y2="173.4" class="mn"/><line x1="346.15" y1="95.3" x2="346.15" y2="173.4" class="mn"/><line x1="356" y1="95.3" x2="356" y2="173.4" class="mn"/><line x1="365.85" y1="95.3" x2="365.85" y2="173.4" class="mn"/><line x1="375.7" y1="95.3" x2="375.7" y2="173.4" class="mn"/><line x1="334.08" y1="100.3" x2="382.84" y2="100.3" class="mj"/><line x1="334.08" y1="117.57" x2="382.84" y2="117.57" class="mj"/><line x1="334.08" y1="134.85" x2="382.84" y2="134.85" class="mj"/><line x1="334.08" y1="152.12" x2="382.84" y2="152.12" class="mj"/><line x1="334.08" y1="169.4" x2="382.84" y2="169.4" class="mj"/><line x1="341.23" y1="95.3" x2="341.23" y2="173.4" class="mj"/><line x1="351.07" y1="95.3" x2="351.07" y2="173.4" class="mj"/><line x1="360.93" y1="95.3" x2="360.93" y2="173.4" class="mj"/><line x1="370.78" y1="95.3" x2="370.78" y2="173.4" class="mj"/><line x1="380.62" y1="95.3" x2="380.62" y2="173.4" class="mj"/>
<line x1="386.48" y1="108.94" x2="435.24" y2="108.94" class="mn"/><line x1="386.48" y1="126.21" x2="435.24" y2="126.21" class="mn"/><line x1="386.48" y1="143.49" x2="435.24" y2="143.49" class="mn"/><line x1="386.48" y1="160.76" x2="435.24" y2="160.76" class="mn"/><line x1="388.7" y1="95.3" x2="388.7" y2="173.4" class="mn"/><line x1="398.55" y1="95.3" x2="398.55" y2="173.4" class="mn"/><line x1="408.4" y1="95.3" x2="408.4" y2="173.4" class="mn"/><line x1="418.25" y1="95.3" x2="418.25" y2="173.4" class="mn"/><line x1="428.1" y1="95.3" x2="428.1" y2="173.4" class="mn"/><line x1="386.48" y1="100.3" x2="435.24" y2="100.3" class="mj"/><line x1="386.48" y1="117.57" x2="435.24" y2="117.57" class="mj"/><line x1="386.48" y1="134.85" x2="435.24" y2="134.85" class="mj"/><line x1="386.48" y1="152.12" x2="435.24" y2="152.12" class="mj"/><line x1="386.48" y1="169.4" x2="435.24" y2="169.4" class="mj"/><line x1="393.62" y1="95.3" x2="393.62" y2="173.4" class="mj"/><line x1="403.47" y1="95.3" x2="403.47" y2="173.4" class="mj"/><line x1="413.32" y1="95.3" x2="413.32" y2="173.4" class="mj"/><line x1="423.18" y1="95.3" x2="423.18" y2="173.4" class="mj"/><line x1="433.02" y1="95.3" x2="433.02" y2="173.4" class="mj"/>
<line x1="281.68" y1="188.64" x2="330.44" y2="188.64" class="mn"/><line x1="281.68" y1="205.91" x2="330.44" y2="205.91" class="mn"/><line x1="281.68" y1="223.19" x2="330.44" y2="223.19" class="mn"/><line x1="281.68" y1="240.46" x2="330.44" y2="240.46" class="mn"/><line x1="283.9" y1="175" x2="283.9" y2="253.1" class="mn"/><line x1="293.75" y1="175" x2="293.75" y2="253.1" class="mn"/><line x1="303.6" y1="175" x2="303.6" y2="253.1" class="mn"/><line x1="313.45" y1="175" x2="313.45" y2="253.1" class="mn"/><line x1="323.3" y1="175" x2="323.3" y2="253.1" class="mn"/><line x1="281.68" y1="180" x2="330.44" y2="180" class="mj"/><line x1="281.68" y1="197.28" x2="330.44" y2="197.28" class="mj"/><line x1="281.68" y1="214.55" x2="330.44" y2="214.55" class="mj"/><line x1="281.68" y1="231.83" x2="330.44" y2="231.83" class="mj"/><line x1="281.68" y1="249.1" x2="330.44" y2="249.1" class="mj"/><line x1="288.82" y1="175" x2="288.82" y2="253.1" class="mj"/><line x1="298.67" y1="175" x2="298.67" y2="253.1" class="mj"/><line x1="308.52" y1="175" x2="308.52" y2="253.1" class="mj"/><line x1="318.38" y1="175" x2="318.38" y2="253.1" class="mj"/><line x1="328.22" y1="175" x2="328.22" y2="253.1" class="mj"/>
<line x1="334.08" y1="188.64" x2="382.84" y2="188.64" class="mn"/><line x1="334.08" y1="205.91" x2="382.84" y2="205.91" class="mn"/><line x1="334.08" y1="223.19" x2="382.84" y2="223.19" class="mn"/><line x1="334.08" y1="240.46" x2="382.84" y2="240.46" class="mn"/><line x1="336.3" y1="175" x2="336.3" y2="253.1" class="mn"/><line x1="346.15" y1="175" x2="346.15" y2="253.1" class="mn"/><line x1="356" y1="175" x2="356" y2="253.1" class="mn"/><line x1="365.85" y1="175" x2="365.85" y2="253.1" class="mn"/><line x1="375.7" y1="175" x2="375.7" y2="253.1" class="mn"/><line x1="334.08" y1="180" x2="382.84" y2="180" class="mj"/><line x1="334.08" y1="197.28" x2="382.84" y2="197.28" class="mj"/><line x1="334.08" y1="214.55" x2="382.84" y2="214.55" class="mj"/><line x1="334.08" y1="231.83" x2="382.84" y2="231.83" class="mj"/><line x1="334.08" y1="249.1" x2="382.84" y2="249.1" class="mj"/><line x1="341.23" y1="175" x2="341.23" y2="253.1" class="mj"/><line x1="351.07" y1="175" x2="351.07" y2="253.1" class="mj"/><line x1="360.93" y1="175" x2="360.93" y2="253.1" class="mj"/><line x1="370.78" y1="175" x2="370.78" y2="253.1" class="mj"/><line x1="380.62" y1="175" x2="380.62" y2="253.1" class="mj"/>
<line x1="386.48" y1="188.64" x2="435.24" y2="188.64" class="mn"/><line x1="386.48" y1="205.91" x2="435.24" y2="205.91" class="mn"/><line x1="386.48" y1="223.19" x2="435.24" y2="223.19" class="mn"/><line x1="386.48" y1="240.46" x2="435.24" y2="240.46" class="mn"/><line x1="388.7" y1="175" x2="388.7" y2="253.1" class="mn"/><line x1="398.55" y1="175" x2="398.55" y2="253.1" class="mn"/><line x1="408.4" y1="175" x2="408.4" y2="253.1" class="mn"/><line x1="418.25" y1="175" x2="418.25" y2="253.1" class="mn"/><line x1="428.1" y1="175" x2="428.1" y2="253.1" class="mn"/><line x1="386.48" y1="180" x2="435.24" y2="180" class="mj"/><line x1="386.48" y1="197.28" x2="435.24" y2="197.28" class="mj"/><line x1="386.48" y1="214.55" x2="435.24" y2="214.55" class="mj"/><line x1="386.48" y1="231.83" x2="435.24" y2="231.83" class="mj"/><line x1="386.48" y1="249.1" x2="435.24" y2="249.1" class="mj"/><line x1="393.62" y1="175" x2="393.62" y2="253.1" class="mj"/><line x1="403.47" y1="175" x2="403.47" y2="253.1" class="mj"/><line x1="413.32" y1="175" x2="413.32" y2="253.1" class="mj"/><line x1="423.18" y1="175" x2="423.18" y2="253.1" class="mj"/><line x1="433.02" y1="175" x2="433.02" y2="253.1" class="mj"/>
<line x1="281.68" y1="269.84" x2="330.44" y2="269.84" class="mn"/><line x1="281.68" y1="287.11" x2="330.44" y2="287.11" class="mn"/><line x1="281.68" y1="304.39" x2="330.44" y2="304.39" class="mn"/><line x1="281.68" y1="321.66" x2="330.44" y2="321.66" class="mn"/><line x1="283.9" y1="256.2" x2="283.9" y2="334.3" class="mn"/><line x1="293.75" y1="256.2" x2="293.75" y2="334.3" class="mn"/><line x1="303.6" y1="256.2" x2="303.6" y2="334.3" class="mn"/><line x1="313.45" y1="256.2" x2="313.45" y2="334.3" class="mn"/><line x1="323.3" y1="256.2" x2="323.3" y2="334.3" class="mn"/><line x1="281.68" y1="261.2" x2="330.44" y2="261.2" class="mj"/><line x1="281.68" y1="278.48" x2="330.44" y2="278.48" class="mj"/><line x1="281.68" y1="295.75" x2="330.44" y2="295.75" class="mj"/><line x1="281.68" y1="313.03" x2="330.44" y2="313.03" class="mj"/><line x1="281.68" y1="330.3" x2="330.44" y2="330.3" class="mj"/><line x1="288.82" y1="256.2" x2="288.82" y2="334.3" class="mj"/><line x1="298.67" y1="256.2" x2="298.67" y2="334.3" class="mj"/><line x1="308.52" y1="256.2" x2="308.52" y2="334.3" class="mj"/><line x1="318.38" y1="256.2" x2="318.38" y2="334.3" class="mj"/><line x1="328.22" y1="256.2" x2="328.22" y2="334.3" class="mj"/>
<line x1="334.08" y1="269.84" x2="382.84" y2="269.84" class="mn"/><line x1="334.08" y1="287.11" x2="382.84" y2="287.11" class="mn"/><line x1="334.08" y1="304.39" x2="382.84" y2="304.39" class="mn"/><line x1="334.08" y1="321.66" x2="382.84" y2="321.66" class="mn"/><line x1="336.3" y1="256.2" x2="336.3" y2="334.3" class="mn"/><line x1="346.15" y1="256.2" x2="346.15" y2="334.3" class="mn"/><line x1="356" y1="256.2" x2="356" y2="334.3" class="mn"/><line x1="365.85" y1="256.2" x2="365.85" y2="334.3" class="mn"/><line x1="375.7" y1="256.2" x2="375.7" y2="334.3" class="mn"/><line x1="334.08" y1="261.2" x2="382.84" y2="261.2" class="mj"/><line x1="334.08" y1="278.48" x2="382.84" y2="278.48" class="mj"/><line x1="334.08" y1="295.75" x2="382.84" y2="295.75" class="mj"/><line x1="334.08" y1="313.03" x2="382.84" y2="313.03" class="mj"/><line x1="334.08" y1="330.3" x2="382.84" y2="330.3" class="mj"/><line x1="341.23" y1="256.2" x2="341.23" y2="334.3" class="mj"/><line x1="351.07" y1="256.2" x2="351.07" y2="334.3" class="mj"/><line x1="360.93" y1="256.2" x2="360.93" y2="334.3" class="mj"/><line x1="370.78" y1="256.2" x2="370.78" y2="334.3" class="mj"/><line x1="380.62" y1="256.2" x2="380.62" y2="334.3" class="mj"/>
<line x1="386.48" y1="269.84" x2="435.24" y2="269.84" class="mn"/><line x1="386.48" y1="287.11" x2="435.24" y2="287.11" class="mn"/><line x1="386.48" y1="304.39" x2="435.24" y2="304.39" class="mn"/><line x1="386.48" y1="321.66" x2="435.24" y2="321.66" class="mn"/><line x1="388.7" y1="256.2" x2="388.7" y2="334.3" class="mn"/><line x1="398.55" y1="256.2" x2="398.55" y2="334.3" class="mn"/><line x1="408.4" y1="256.2" x2="408.4" y2="334.3" class="mn"/><line x1="418.25" y1="256.2" x2="418.25" y2="334.3" class="mn"/><line x1="428.1" y1="256.2" x2="428.1" y2="334.3" class="mn"/><line x1="386.48" y1="261.2" x2="435.24" y2="261.2" class="mj"/><line x1="386.48" y1="278.48" x2="435.24" y2="278.48" class="mj"/><line x1="386.48" y1="295.75" x2="435.24" y2="295.75" class="mj"/><line x1="386.48" y1="313.03" x2="435.24" y2="313.03" class="mj"/><line x1="386.48" y1="330.3" x2="435.24" y2="330.3" class="mj"/><line x1="393.62" y1="256.2" x2="393.62" y2="334.3" class="mj"/><line x1="403.47" y1="256.2" x2="403.47" y2="334.3" class="mj"/><line x1="413.32" y1="256.2" x2="413.32" y2="334.3" class="mj"/><line x1="423.18" y1="256.2" x2="423.18" y2="334.3" class="mj"/><line x1="433.02" y1="256.2" x2="433.02" y2="334.3" class="mj"/>
<polyline points="283.9,51.42 308.52,82.7 328.22,84.02" class="dl" stroke="#5470cc"/>
<polyline points="283.9,82.77 308.52,85.89 328.22,86.58" class="dl" stroke="#e09478"/>
<polyline points="283.9,71.63 308.52,86.23 328.22,86.92" class="dl" stroke="#d84838"/>
<polyline points="283.9,22.91 308.52,78.07 328.22,81.6" class="dl" stroke="#963c96"/>
<polyline points="283.9,82.91 308.52,86.92 328.22,87.27" class="dl" stroke="#3a7a3e"/>
<polyline points="336.3,51.98 360.93,83.12 380.62,84.85" class="dl" stroke="#5470cc"/>
<polyline points="336.3,77.58 360.93,85.89 380.62,86.58" class="dl" stroke="#e09478"/>
<polyline points="336.3,71.08 360.93,86.23 380.62,86.92" class="dl" stroke="#d84838"/>
<polyline points="336.3,17.79 360.93,79.52 380.62,81.18" class="dl" stroke="#963c96"/>
<polyline points="336.3,77.58 360.93,85.61 380.62,86.23" class="dl" stroke="#3a7a3e"/>
<polyline points="388.7,51.98 413.32,82.43 433.02,83.81" class="dl" stroke="#5470cc"/>
<polyline points="388.7,70.32 413.32,84.85 433.02,86.23" class="dl" stroke="#e09478"/>
<polyline points="388.7,70.87 413.32,85.61 433.02,86.72" class="dl" stroke="#d84838"/>
<polyline points="388.7,20.63 413.32,77.79 433.02,82.08" class="dl" stroke="#963c96"/>
<polyline points="388.7,69 413.32,81.87 433.02,82.7" class="dl" stroke="#3a7a3e"/>
<polyline points="283.9,157.71 308.52,167.33 328.22,168.02" class="dl" stroke="#5470cc"/>
<polyline points="283.9,165.95 308.52,168.72 328.22,169.06" class="dl" stroke="#e09478"/>
<polyline points="283.9,163.8 308.52,168.72 328.22,169.06" class="dl" stroke="#d84838"/>
<polyline points="283.9,148.58 308.52,165.39 328.22,166.29" class="dl" stroke="#963c96"/>
<polyline points="283.9,167.4 308.52,169.27 328.22,169.4" class="dl" stroke="#3a7a3e"/>
<polyline points="336.3,157.23 360.93,167.33 380.62,168.02" class="dl" stroke="#5470cc"/>
<polyline points="336.3,164.56 360.93,168.37 380.62,169.06" class="dl" stroke="#e09478"/>
<polyline points="336.3,163.6 360.93,168.37 380.62,168.72" class="dl" stroke="#d84838"/>
<polyline points="336.3,146.99 360.93,164.91 380.62,166.64" class="dl" stroke="#963c96"/>
<polyline points="336.3,164.91 360.93,168.99 380.62,169.27" class="dl" stroke="#3a7a3e"/>
<polyline points="388.7,157.23 413.32,166.64 433.02,167.68" class="dl" stroke="#5470cc"/>
<polyline points="388.7,163.18 413.32,167.68 433.02,168.37" class="dl" stroke="#e09478"/>
<polyline points="388.7,163.32 413.32,168.72 433.02,169.27" class="dl" stroke="#d84838"/>
<polyline points="388.7,146.57 413.32,165.12 433.02,166.99" class="dl" stroke="#963c96"/>
<polyline points="388.7,162.21 413.32,166.29 433.02,166.71" class="dl" stroke="#3a7a3e"/>
<polyline points="283.9,241.5 308.52,248.07 328.22,248.55" class="dl" stroke="#5470cc"/>
<polyline points="283.9,246.34 308.52,248.76 328.22,249.1" class="dl" stroke="#e09478"/>
<polyline points="283.9,245.3 308.52,248.76 328.22,249.1" class="dl" stroke="#d84838"/>
<polyline points="283.9,236.1 308.52,247.03 328.22,247.72" class="dl" stroke="#963c96"/>
<polyline points="283.9,247.38 308.52,249.1 328.22,249.1" class="dl" stroke="#3a7a3e"/>
<polyline points="336.3,242.19 360.93,248.07 380.62,248.55" class="dl" stroke="#5470cc"/>
<polyline points="336.3,245.99 360.93,248.76 380.62,248.97" class="dl" stroke="#e09478"/>
<polyline points="336.3,245.58 360.93,248.76 380.62,248.97" class="dl" stroke="#d84838"/>
<polyline points="336.3,235.89 360.93,246.69 380.62,247.72" class="dl" stroke="#963c96"/>
<polyline points="336.3,245.79 360.93,248.97 380.62,249.1" class="dl" stroke="#3a7a3e"/>
<polyline points="388.7,240.8 413.32,247.86 433.02,248.42" class="dl" stroke="#5470cc"/>
<polyline points="388.7,244.82 413.32,248.42 433.02,248.76" class="dl" stroke="#e09478"/>
<polyline points="388.7,245.3 413.32,248.69 433.02,248.97" class="dl" stroke="#d84838"/>
<polyline points="388.7,235.27 413.32,246.69 433.02,247.72" class="dl" stroke="#963c96"/>
<polyline points="388.7,244.19 413.32,247.72 433.02,248.07" class="dl" stroke="#3a7a3e"/>
<polyline points="283.9,326.43 308.52,329.75 328.22,330.3" class="dl" stroke="#5470cc"/>
<polyline points="283.9,328.92 308.52,330.3 328.22,330.3" class="dl" stroke="#e09478"/>
<polyline points="283.9,328.58 308.52,330.3 328.22,330.3" class="dl" stroke="#d84838"/>
<polyline points="283.9,323.66 308.52,329.27 328.22,329.96" class="dl" stroke="#963c96"/>
<polyline points="283.9,329.48 308.52,330.3 328.22,330.3" class="dl" stroke="#3a7a3e"/>
<polyline points="336.3,326.5 360.93,329.75 380.62,330.3" class="dl" stroke="#5470cc"/>
<polyline points="336.3,328.23 360.93,330.17 380.62,330.3" class="dl" stroke="#e09478"/>
<polyline points="336.3,327.89 360.93,330.17 380.62,330.3" class="dl" stroke="#d84838"/>
<polyline points="336.3,323.87 360.93,329.48 380.62,330.17" class="dl" stroke="#963c96"/>
<polyline points="336.3,328.23 360.93,330.3 380.62,330.3" class="dl" stroke="#3a7a3e"/>
<polyline points="388.7,325.81 413.32,329.75 433.02,330.17" class="dl" stroke="#5470cc"/>
<polyline points="388.7,327.89 413.32,330.17 433.02,330.3" class="dl" stroke="#e09478"/>
<polyline points="388.7,327.89 413.32,330.17 433.02,330.3" class="dl" stroke="#d84838"/>
<polyline points="388.7,322.9 413.32,329.27 433.02,329.96" class="dl" stroke="#963c96"/>
<polyline points="388.7,327.68 413.32,329.96 433.02,330.3" class="dl" stroke="#3a7a3e"/>
<circle cx="283.9" cy="51.42" r="1.45" fill="#4a5ab8"/>
<circle cx="308.52" cy="82.7" r="1.45" fill="#4a5ab8"/>
<circle cx="328.22" cy="84.02" r="1.45" fill="#4a5ab8"/>
<circle cx="283.9" cy="82.77" r="1.45" fill="#c87e6c"/>
<circle cx="308.52" cy="85.89" r="1.45" fill="#c87e6c"/>
<circle cx="328.22" cy="86.58" r="1.45" fill="#c87e6c"/>
<circle cx="283.9" cy="71.63" r="1.45" fill="#c21c2c"/>
<circle cx="308.52" cy="86.23" r="1.45" fill="#c21c2c"/>
<circle cx="328.22" cy="86.92" r="1.45" fill="#c21c2c"/>
<circle cx="283.9" cy="22.91" r="1.45" fill="#621c70"/>
<circle cx="308.52" cy="78.07" r="1.45" fill="#621c70"/>
<circle cx="328.22" cy="81.6" r="1.45" fill="#621c70"/>
<circle cx="283.9" cy="82.91" r="1.45" fill="#15341c"/>
<circle cx="308.52" cy="86.92" r="1.45" fill="#15341c"/>
<circle cx="328.22" cy="87.27" r="1.45" fill="#15341c"/>
<circle cx="336.3" cy="51.98" r="1.45" fill="#4a5ab8"/>
<circle cx="360.93" cy="83.12" r="1.45" fill="#4a5ab8"/>
<circle cx="380.62" cy="84.85" r="1.45" fill="#4a5ab8"/>
<circle cx="336.3" cy="77.58" r="1.45" fill="#c87e6c"/>
<circle cx="360.93" cy="85.89" r="1.45" fill="#c87e6c"/>
<circle cx="380.62" cy="86.58" r="1.45" fill="#c87e6c"/>
<circle cx="336.3" cy="71.08" r="1.45" fill="#c21c2c"/>
<circle cx="360.93" cy="86.23" r="1.45" fill="#c21c2c"/>
<circle cx="380.62" cy="86.92" r="1.45" fill="#c21c2c"/>
<circle cx="336.3" cy="17.79" r="1.45" fill="#621c70"/>
<circle cx="360.93" cy="79.52" r="1.45" fill="#621c70"/>
<circle cx="380.62" cy="81.18" r="1.45" fill="#621c70"/>
<circle cx="336.3" cy="77.58" r="1.45" fill="#15341c"/>
<circle cx="360.93" cy="85.61" r="1.45" fill="#15341c"/>
<circle cx="380.62" cy="86.23" r="1.45" fill="#15341c"/>
<circle cx="388.7" cy="51.98" r="1.45" fill="#4a5ab8"/>
<circle cx="413.32" cy="82.43" r="1.45" fill="#4a5ab8"/>
<circle cx="433.02" cy="83.81" r="1.45" fill="#4a5ab8"/>
<circle cx="388.7" cy="70.32" r="1.45" fill="#c87e6c"/>
<circle cx="413.32" cy="84.85" r="1.45" fill="#c87e6c"/>
<circle cx="433.02" cy="86.23" r="1.45" fill="#c87e6c"/>
<circle cx="388.7" cy="70.87" r="1.45" fill="#c21c2c"/>
<circle cx="413.32" cy="85.61" r="1.45" fill="#c21c2c"/>
<circle cx="433.02" cy="86.72" r="1.45" fill="#c21c2c"/>
<circle cx="388.7" cy="20.63" r="1.45" fill="#621c70"/>
<circle cx="413.32" cy="77.79" r="1.45" fill="#621c70"/>
<circle cx="433.02" cy="82.08" r="1.45" fill="#621c70"/>
<circle cx="388.7" cy="69" r="1.45" fill="#15341c"/>
<circle cx="413.32" cy="81.87" r="1.45" fill="#15341c"/>
<circle cx="433.02" cy="82.7" r="1.45" fill="#15341c"/>
<circle cx="283.9" cy="157.71" r="1.45" fill="#4a5ab8"/>
<circle cx="308.52" cy="167.33" r="1.45" fill="#4a5ab8"/>
<circle cx="328.22" cy="168.02" r="1.45" fill="#4a5ab8"/>
<circle cx="283.9" cy="165.95" r="1.45" fill="#c87e6c"/>
<circle cx="308.52" cy="168.72" r="1.45" fill="#c87e6c"/>
<circle cx="328.22" cy="169.06" r="1.45" fill="#c87e6c"/>
<circle cx="283.9" cy="163.8" r="1.45" fill="#c21c2c"/>
<circle cx="308.52" cy="168.72" r="1.45" fill="#c21c2c"/>
<circle cx="328.22" cy="169.06" r="1.45" fill="#c21c2c"/>
<circle cx="283.9" cy="148.58" r="1.45" fill="#621c70"/>
<circle cx="308.52" cy="165.39" r="1.45" fill="#621c70"/>
<circle cx="328.22" cy="166.29" r="1.45" fill="#621c70"/>
<circle cx="283.9" cy="167.4" r="1.45" fill="#15341c"/>
<circle cx="308.52" cy="169.27" r="1.45" fill="#15341c"/>
<circle cx="328.22" cy="169.4" r="1.45" fill="#15341c"/>
<circle cx="336.3" cy="157.23" r="1.45" fill="#4a5ab8"/>
<circle cx="360.93" cy="167.33" r="1.45" fill="#4a5ab8"/>
<circle cx="380.62" cy="168.02" r="1.45" fill="#4a5ab8"/>
<circle cx="336.3" cy="164.56" r="1.45" fill="#c87e6c"/>
<circle cx="360.93" cy="168.37" r="1.45" fill="#c87e6c"/>
<circle cx="380.62" cy="169.06" r="1.45" fill="#c87e6c"/>
<circle cx="336.3" cy="163.6" r="1.45" fill="#c21c2c"/>
<circle cx="360.93" cy="168.37" r="1.45" fill="#c21c2c"/>
<circle cx="380.62" cy="168.72" r="1.45" fill="#c21c2c"/>
<circle cx="336.3" cy="146.99" r="1.45" fill="#621c70"/>
<circle cx="360.93" cy="164.91" r="1.45" fill="#621c70"/>
<circle cx="380.62" cy="166.64" r="1.45" fill="#621c70"/>
<circle cx="336.3" cy="164.91" r="1.45" fill="#15341c"/>
<circle cx="360.93" cy="168.99" r="1.45" fill="#15341c"/>
<circle cx="380.62" cy="169.27" r="1.45" fill="#15341c"/>
<circle cx="388.7" cy="157.23" r="1.45" fill="#4a5ab8"/>
<circle cx="413.32" cy="166.64" r="1.45" fill="#4a5ab8"/>
<circle cx="433.02" cy="167.68" r="1.45" fill="#4a5ab8"/>
<circle cx="388.7" cy="163.18" r="1.45" fill="#c87e6c"/>
<circle cx="413.32" cy="167.68" r="1.45" fill="#c87e6c"/>
<circle cx="433.02" cy="168.37" r="1.45" fill="#c87e6c"/>
<circle cx="388.7" cy="163.32" r="1.45" fill="#c21c2c"/>
<circle cx="413.32" cy="168.72" r="1.45" fill="#c21c2c"/>
<circle cx="433.02" cy="169.27" r="1.45" fill="#c21c2c"/>
<circle cx="388.7" cy="146.57" r="1.45" fill="#621c70"/>
<circle cx="413.32" cy="165.12" r="1.45" fill="#621c70"/>
<circle cx="433.02" cy="166.99" r="1.45" fill="#621c70"/>
<circle cx="388.7" cy="162.21" r="1.45" fill="#15341c"/>
<circle cx="413.32" cy="166.29" r="1.45" fill="#15341c"/>
<circle cx="433.02" cy="166.71" r="1.45" fill="#15341c"/>
<circle cx="283.9" cy="241.5" r="1.45" fill="#4a5ab8"/>
<circle cx="308.52" cy="248.07" r="1.45" fill="#4a5ab8"/>
<circle cx="328.22" cy="248.55" r="1.45" fill="#4a5ab8"/>
<circle cx="283.9" cy="246.34" r="1.45" fill="#c87e6c"/>
<circle cx="308.52" cy="248.76" r="1.45" fill="#c87e6c"/>
<circle cx="328.22" cy="249.1" r="1.45" fill="#c87e6c"/>
<circle cx="283.9" cy="245.3" r="1.45" fill="#c21c2c"/>
<circle cx="308.52" cy="248.76" r="1.45" fill="#c21c2c"/>
<circle cx="328.22" cy="249.1" r="1.45" fill="#c21c2c"/>
<circle cx="283.9" cy="236.1" r="1.45" fill="#621c70"/>
<circle cx="308.52" cy="247.03" r="1.45" fill="#621c70"/>
<circle cx="328.22" cy="247.72" r="1.45" fill="#621c70"/>
<circle cx="283.9" cy="247.38" r="1.45" fill="#15341c"/>
<circle cx="308.52" cy="249.1" r="1.45" fill="#15341c"/>
<circle cx="328.22" cy="249.1" r="1.45" fill="#15341c"/>
<circle cx="336.3" cy="242.19" r="1.45" fill="#4a5ab8"/>
<circle cx="360.93" cy="248.07" r="1.45" fill="#4a5ab8"/>
<circle cx="380.62" cy="248.55" r="1.45" fill="#4a5ab8"/>
<circle cx="336.3" cy="245.99" r="1.45" fill="#c87e6c"/>
<circle cx="360.93" cy="248.76" r="1.45" fill="#c87e6c"/>
<circle cx="380.62" cy="248.97" r="1.45" fill="#c87e6c"/>
<circle cx="336.3" cy="245.58" r="1.45" fill="#c21c2c"/>
<circle cx="360.93" cy="248.76" r="1.45" fill="#c21c2c"/>
<circle cx="380.62" cy="248.97" r="1.45" fill="#c21c2c"/>
<circle cx="336.3" cy="235.89" r="1.45" fill="#621c70"/>
<circle cx="360.93" cy="246.69" r="1.45" fill="#621c70"/>
<circle cx="380.62" cy="247.72" r="1.45" fill="#621c70"/>
<circle cx="336.3" cy="245.79" r="1.45" fill="#15341c"/>
<circle cx="360.93" cy="248.97" r="1.45" fill="#15341c"/>
<circle cx="380.62" cy="249.1" r="1.45" fill="#15341c"/>
<circle cx="388.7" cy="240.8" r="1.45" fill="#4a5ab8"/>
<circle cx="413.32" cy="247.86" r="1.45" fill="#4a5ab8"/>
<circle cx="433.02" cy="248.42" r="1.45" fill="#4a5ab8"/>
<circle cx="388.7" cy="244.82" r="1.45" fill="#c87e6c"/>
<circle cx="413.32" cy="248.42" r="1.45" fill="#c87e6c"/>
<circle cx="433.02" cy="248.76" r="1.45" fill="#c87e6c"/>
<circle cx="388.7" cy="245.3" r="1.45" fill="#c21c2c"/>
<circle cx="413.32" cy="248.69" r="1.45" fill="#c21c2c"/>
<circle cx="433.02" cy="248.97" r="1.45" fill="#c21c2c"/>
<circle cx="388.7" cy="235.27" r="1.45" fill="#621c70"/>
<circle cx="413.32" cy="246.69" r="1.45" fill="#621c70"/>
<circle cx="433.02" cy="247.72" r="1.45" fill="#621c70"/>
<circle cx="388.7" cy="244.19" r="1.45" fill="#15341c"/>
<circle cx="413.32" cy="247.72" r="1.45" fill="#15341c"/>
<circle cx="433.02" cy="248.07" r="1.45" fill="#15341c"/>
<circle cx="283.9" cy="326.43" r="1.45" fill="#4a5ab8"/>
<circle cx="308.52" cy="329.75" r="1.45" fill="#4a5ab8"/>
<circle cx="328.22" cy="330.3" r="1.45" fill="#4a5ab8"/>
<circle cx="283.9" cy="328.92" r="1.45" fill="#c87e6c"/>
<circle cx="308.52" cy="330.3" r="1.45" fill="#c87e6c"/>
<circle cx="328.22" cy="330.3" r="1.45" fill="#c87e6c"/>
<circle cx="283.9" cy="328.58" r="1.45" fill="#c21c2c"/>
<circle cx="308.52" cy="330.3" r="1.45" fill="#c21c2c"/>
<circle cx="328.22" cy="330.3" r="1.45" fill="#c21c2c"/>
<circle cx="283.9" cy="323.66" r="1.45" fill="#621c70"/>
<circle cx="308.52" cy="329.27" r="1.45" fill="#621c70"/>
<circle cx="328.22" cy="329.96" r="1.45" fill="#621c70"/>
<circle cx="283.9" cy="329.48" r="1.45" fill="#15341c"/>
<circle cx="308.52" cy="330.3" r="1.45" fill="#15341c"/>
<circle cx="328.22" cy="330.3" r="1.45" fill="#15341c"/>
<circle cx="336.3" cy="326.5" r="1.45" fill="#4a5ab8"/>
<circle cx="360.93" cy="329.75" r="1.45" fill="#4a5ab8"/>
<circle cx="380.62" cy="330.3" r="1.45" fill="#4a5ab8"/>
<circle cx="336.3" cy="328.23" r="1.45" fill="#c87e6c"/>
<circle cx="360.93" cy="330.17" r="1.45" fill="#c87e6c"/>
<circle cx="380.62" cy="330.3" r="1.45" fill="#c87e6c"/>
<circle cx="336.3" cy="327.89" r="1.45" fill="#c21c2c"/>
<circle cx="360.93" cy="330.17" r="1.45" fill="#c21c2c"/>
<circle cx="380.62" cy="330.3" r="1.45" fill="#c21c2c"/>
<circle cx="336.3" cy="323.87" r="1.45" fill="#621c70"/>
<circle cx="360.93" cy="329.48" r="1.45" fill="#621c70"/>
<circle cx="380.62" cy="330.17" r="1.45" fill="#621c70"/>
<circle cx="336.3" cy="328.23" r="1.45" fill="#15341c"/>
<circle cx="360.93" cy="330.3" r="1.45" fill="#15341c"/>
<circle cx="380.62" cy="330.3" r="1.45" fill="#15341c"/>
<circle cx="388.7" cy="325.81" r="1.45" fill="#4a5ab8"/>
<circle cx="413.32" cy="329.75" r="1.45" fill="#4a5ab8"/>
<circle cx="433.02" cy="330.17" r="1.45" fill="#4a5ab8"/>
<circle cx="388.7" cy="327.89" r="1.45" fill="#c87e6c"/>
<circle cx="413.32" cy="330.17" r="1.45" fill="#c87e6c"/>
<circle cx="433.02" cy="330.3" r="1.45" fill="#c87e6c"/>
<circle cx="388.7" cy="327.89" r="1.45" fill="#c21c2c"/>
<circle cx="413.32" cy="330.17" r="1.45" fill="#c21c2c"/>
<circle cx="433.02" cy="330.3" r="1.45" fill="#c21c2c"/>
<circle cx="388.7" cy="322.9" r="1.45" fill="#621c70"/>
<circle cx="413.32" cy="329.27" r="1.45" fill="#621c70"/>
<circle cx="433.02" cy="329.96" r="1.45" fill="#621c70"/>
<circle cx="388.7" cy="327.68" r="1.45" fill="#15341c"/>
<circle cx="413.32" cy="329.96" r="1.45" fill="#15341c"/>
<circle cx="433.02" cy="330.3" r="1.45" fill="#15341c"/>
<text transform="translate(277.8,19.5) scale(1,1.15)" class="tk" text-anchor="end" y="2.05">0.100</text>
<text transform="translate(277.8,36.77) scale(1,1.15)" class="tk" text-anchor="end" y="2.05">0.075</text>
<text transform="translate(277.8,54.05) scale(1,1.15)" class="tk" text-anchor="end" y="2.05">0.050</text>
<text transform="translate(277.8,71.32) scale(1,1.15)" class="tk" text-anchor="end" y="2.05">0.025</text>
<text transform="translate(277.8,88.6) scale(1,1.15)" class="tk" text-anchor="end" y="2.05">0.000</text>
<text transform="translate(277.8,100.6) scale(1,1.15)" class="tk" text-anchor="end" y="2.05">0.100</text>
<text transform="translate(277.8,117.87) scale(1,1.15)" class="tk" text-anchor="end" y="2.05">0.075</text>
<text transform="translate(277.8,135.15) scale(1,1.15)" class="tk" text-anchor="end" y="2.05">0.050</text>
<text transform="translate(277.8,152.42) scale(1,1.15)" class="tk" text-anchor="end" y="2.05">0.025</text>
<text transform="translate(277.8,169.7) scale(1,1.15)" class="tk" text-anchor="end" y="2.05">0.000</text>
<text transform="translate(277.8,180.3) scale(1,1.15)" class="tk" text-anchor="end" y="2.05">0.100</text>
<text transform="translate(277.8,197.58) scale(1,1.15)" class="tk" text-anchor="end" y="2.05">0.075</text>
<text transform="translate(277.8,214.85) scale(1,1.15)" class="tk" text-anchor="end" y="2.05">0.050</text>
<text transform="translate(277.8,232.13) scale(1,1.15)" class="tk" text-anchor="end" y="2.05">0.025</text>
<text transform="translate(277.8,249.4) scale(1,1.15)" class="tk" text-anchor="end" y="2.05">0.000</text>
<text transform="translate(277.8,261.5) scale(1,1.15)" class="tk" text-anchor="end" y="2.05">0.100</text>
<text transform="translate(277.8,278.78) scale(1,1.15)" class="tk" text-anchor="end" y="2.05">0.075</text>
<text transform="translate(277.8,296.05) scale(1,1.15)" class="tk" text-anchor="end" y="2.05">0.050</text>
<text transform="translate(277.8,313.33) scale(1,1.15)" class="tk" text-anchor="end" y="2.05">0.025</text>
<text transform="translate(277.8,330.6) scale(1,1.15)" class="tk" text-anchor="end" y="2.05">0.000</text>
<text transform="translate(288.82,338.9) scale(1,1.15)" class="tk" text-anchor="middle" y="2.05">10</text>
<text transform="translate(298.67,338.9) scale(1,1.15)" class="tk" text-anchor="middle" y="2.05">20</text>
<text transform="translate(308.52,338.9) scale(1,1.15)" class="tk" text-anchor="middle" y="2.05">30</text>
<text transform="translate(318.38,338.9) scale(1,1.15)" class="tk" text-anchor="middle" y="2.05">40</text>
<text transform="translate(328.22,338.9) scale(1,1.15)" class="tk" text-anchor="middle" y="2.05">50</text>
<text transform="translate(341.23,338.9) scale(1,1.15)" class="tk" text-anchor="middle" y="2.05">10</text>
<text transform="translate(351.07,338.9) scale(1,1.15)" class="tk" text-anchor="middle" y="2.05">20</text>
<text transform="translate(360.93,338.9) scale(1,1.15)" class="tk" text-anchor="middle" y="2.05">30</text>
<text transform="translate(370.78,338.9) scale(1,1.15)" class="tk" text-anchor="middle" y="2.05">40</text>
<text transform="translate(380.62,338.9) scale(1,1.15)" class="tk" text-anchor="middle" y="2.05">50</text>
<text transform="translate(393.62,338.9) scale(1,1.15)" class="tk" text-anchor="middle" y="2.05">10</text>
<text transform="translate(403.47,338.9) scale(1,1.15)" class="tk" text-anchor="middle" y="2.05">20</text>
<text transform="translate(413.32,338.9) scale(1,1.15)" class="tk" text-anchor="middle" y="2.05">30</text>
<text transform="translate(423.18,338.9) scale(1,1.15)" class="tk" text-anchor="middle" y="2.05">40</text>
<text transform="translate(433.02,338.9) scale(1,1.15)" class="tk" text-anchor="middle" y="2.05">50</text>
<g transform="translate(306.06,0)"><text x="-13.9" y="7.6" class="st" style="font-size:5.4px;stroke-width:0.1">σ</text><text x="-10.4" y="3.6" class="st" style="font-size:3.7px;stroke-width:0.08">2</text><text x="-10.7" y="10.4" class="st" style="font-size:3.3px;stroke-width:0.05">u</text><text x="-8.9" y="11.2" class="st" style="font-size:2.5px;stroke-width:0.05">0</text><path d="M-3.4 5.3H-0.7M-3.4 6.7H-0.7" stroke="#333" stroke-width="0.6"/><text transform="translate(1.0,5.8) scale(1,1.12)" y="2.1" class="st">0.05</text></g>
<g transform="translate(358.46,0)"><text x="-13.9" y="7.6" class="st" style="font-size:5.4px;stroke-width:0.1">σ</text><text x="-10.4" y="3.6" class="st" style="font-size:3.7px;stroke-width:0.08">2</text><text x="-10.7" y="10.4" class="st" style="font-size:3.3px;stroke-width:0.05">u</text><text x="-8.9" y="11.2" class="st" style="font-size:2.5px;stroke-width:0.05">0</text><path d="M-3.4 5.3H-0.7M-3.4 6.7H-0.7" stroke="#333" stroke-width="0.6"/><text transform="translate(1.0,5.8) scale(1,1.12)" y="2.1" class="st">0.11</text></g>
<g transform="translate(410.86,0)"><text x="-13.9" y="7.6" class="st" style="font-size:5.4px;stroke-width:0.1">σ</text><text x="-10.4" y="3.6" class="st" style="font-size:3.7px;stroke-width:0.08">2</text><text x="-10.7" y="10.4" class="st" style="font-size:3.3px;stroke-width:0.05">u</text><text x="-8.9" y="11.2" class="st" style="font-size:2.5px;stroke-width:0.05">0</text><path d="M-3.4 5.3H-0.7M-3.4 6.7H-0.7" stroke="#333" stroke-width="0.6"/><text transform="translate(1.0,5.8) scale(1,1.12)" y="2.1" class="st">0.18</text></g>
<text transform="translate(438,53.25) rotate(90) scale(1,1.22)" class="st" text-anchor="middle" y="0">J = 10</text>
<text transform="translate(438,134.35) rotate(90) scale(1,1.22)" class="st" text-anchor="middle" y="0">J = 30</text>
<text transform="translate(438,214.05) rotate(90) scale(1,1.22)" class="st" text-anchor="middle" y="0">J = 50</text>
<text transform="translate(438,295.25) rotate(90) scale(1,1.22)" class="st" text-anchor="middle" y="0">J = 100</text>
<text transform="translate(259.6,174.2) rotate(-90)" class="at" text-anchor="middle">Precision</text>
<text x="358.46" y="349.9" class="at" style="font-size:7.18px" text-anchor="middle">Sample size in each group (N<tspan font-size="5" dy="1.5">j</tspan><tspan dy="-1.5"> = 5, 30, 50)</tspan></text>
<text x="457.9" y="146.3" class="lt">Parameters</text>
<line x1="458.5" y1="156.2" x2="468" y2="156.2" class="dl" style="stroke-width:0.9;stroke-dasharray:2.1 1.6" stroke="#5470cc"/>
<circle cx="463.1" cy="156.2" r="1.2" fill="#4a5ab8"/>
<text x="473.9" y="158.9" class="ll">β<tspan font-size="4.3" dy="1.5">0</tspan></text>
<line x1="458.5" y1="167.57" x2="468" y2="167.57" class="dl" style="stroke-width:0.9;stroke-dasharray:2.1 1.6" stroke="#e09478"/>
<circle cx="463.1" cy="167.57" r="1.2" fill="#c87e6c"/>
<text x="473.9" y="170.27" class="ll">β<tspan font-size="4.3" dy="1.5">1</tspan></text>
<line x1="458.5" y1="178.94" x2="468" y2="178.94" class="dl" style="stroke-width:0.9;stroke-dasharray:2.1 1.6" stroke="#d84838"/>
<circle cx="463.1" cy="178.94" r="1.2" fill="#c21c2c"/>
<text x="473.9" y="181.64" class="ll">β<tspan font-size="4.3" dy="1.5">2</tspan></text>
<line x1="458.5" y1="190.31" x2="468" y2="190.31" class="dl" style="stroke-width:0.9;stroke-dasharray:2.1 1.6" stroke="#963c96"/>
<circle cx="463.1" cy="190.31" r="1.2" fill="#621c70"/>
<text x="473.9" y="193.01" class="ll">β<tspan font-size="4.3" dy="1.5">3</tspan></text>
<line x1="458.5" y1="201.68" x2="468" y2="201.68" class="dl" style="stroke-width:0.9;stroke-dasharray:2.1 1.6" stroke="#3a7a3e"/>
<circle cx="463.1" cy="201.68" r="1.2" fill="#15341c"/>
<text x="472.4" y="204.08" class="ll">σ</text><text x="475.8" y="199.98" class="ll" style="font-size:3.7px">2</text><text x="475.8" y="206.28" class="ll" style="font-size:3.3px">u</text><text x="477.7" y="208.18" class="ll" style="font-size:2.5px">0</text>
<line x1="534.68" y1="27.84" x2="583.44" y2="27.84" class="mn"/><line x1="534.68" y1="45.11" x2="583.44" y2="45.11" class="mn"/><line x1="534.68" y1="62.39" x2="583.44" y2="62.39" class="mn"/><line x1="534.68" y1="79.66" x2="583.44" y2="79.66" class="mn"/><line x1="536.9" y1="14.2" x2="536.9" y2="92.3" class="mn"/><line x1="546.75" y1="14.2" x2="546.75" y2="92.3" class="mn"/><line x1="556.6" y1="14.2" x2="556.6" y2="92.3" class="mn"/><line x1="566.45" y1="14.2" x2="566.45" y2="92.3" class="mn"/><line x1="576.3" y1="14.2" x2="576.3" y2="92.3" class="mn"/><line x1="534.68" y1="19.2" x2="583.44" y2="19.2" class="mj"/><line x1="534.68" y1="36.48" x2="583.44" y2="36.48" class="mj"/><line x1="534.68" y1="53.75" x2="583.44" y2="53.75" class="mj"/><line x1="534.68" y1="71.02" x2="583.44" y2="71.02" class="mj"/><line x1="534.68" y1="88.3" x2="583.44" y2="88.3" class="mj"/><line x1="541.82" y1="14.2" x2="541.82" y2="92.3" class="mj"/><line x1="551.67" y1="14.2" x2="551.67" y2="92.3" class="mj"/><line x1="561.52" y1="14.2" x2="561.52" y2="92.3" class="mj"/><line x1="571.38" y1="14.2" x2="571.38" y2="92.3" class="mj"/><line x1="581.23" y1="14.2" x2="581.23" y2="92.3" class="mj"/>
<line x1="587.08" y1="27.84" x2="635.84" y2="27.84" class="mn"/><line x1="587.08" y1="45.11" x2="635.84" y2="45.11" class="mn"/><line x1="587.08" y1="62.39" x2="635.84" y2="62.39" class="mn"/><line x1="587.08" y1="79.66" x2="635.84" y2="79.66" class="mn"/><line x1="589.3" y1="14.2" x2="589.3" y2="92.3" class="mn"/><line x1="599.15" y1="14.2" x2="599.15" y2="92.3" class="mn"/><line x1="609" y1="14.2" x2="609" y2="92.3" class="mn"/><line x1="618.85" y1="14.2" x2="618.85" y2="92.3" class="mn"/><line x1="628.7" y1="14.2" x2="628.7" y2="92.3" class="mn"/><line x1="587.08" y1="19.2" x2="635.84" y2="19.2" class="mj"/><line x1="587.08" y1="36.48" x2="635.84" y2="36.48" class="mj"/><line x1="587.08" y1="53.75" x2="635.84" y2="53.75" class="mj"/><line x1="587.08" y1="71.02" x2="635.84" y2="71.02" class="mj"/><line x1="587.08" y1="88.3" x2="635.84" y2="88.3" class="mj"/><line x1="594.22" y1="14.2" x2="594.22" y2="92.3" class="mj"/><line x1="604.07" y1="14.2" x2="604.07" y2="92.3" class="mj"/><line x1="613.92" y1="14.2" x2="613.92" y2="92.3" class="mj"/><line x1="623.77" y1="14.2" x2="623.77" y2="92.3" class="mj"/><line x1="633.62" y1="14.2" x2="633.62" y2="92.3" class="mj"/>
<line x1="639.48" y1="27.84" x2="688.24" y2="27.84" class="mn"/><line x1="639.48" y1="45.11" x2="688.24" y2="45.11" class="mn"/><line x1="639.48" y1="62.39" x2="688.24" y2="62.39" class="mn"/><line x1="639.48" y1="79.66" x2="688.24" y2="79.66" class="mn"/><line x1="641.7" y1="14.2" x2="641.7" y2="92.3" class="mn"/><line x1="651.55" y1="14.2" x2="651.55" y2="92.3" class="mn"/><line x1="661.4" y1="14.2" x2="661.4" y2="92.3" class="mn"/><line x1="671.25" y1="14.2" x2="671.25" y2="92.3" class="mn"/><line x1="681.1" y1="14.2" x2="681.1" y2="92.3" class="mn"/><line x1="639.48" y1="19.2" x2="688.24" y2="19.2" class="mj"/><line x1="639.48" y1="36.48" x2="688.24" y2="36.48" class="mj"/><line x1="639.48" y1="53.75" x2="688.24" y2="53.75" class="mj"/><line x1="639.48" y1="71.02" x2="688.24" y2="71.02" class="mj"/><line x1="639.48" y1="88.3" x2="688.24" y2="88.3" class="mj"/><line x1="646.62" y1="14.2" x2="646.62" y2="92.3" class="mj"/><line x1="656.48" y1="14.2" x2="656.48" y2="92.3" class="mj"/><line x1="666.33" y1="14.2" x2="666.33" y2="92.3" class="mj"/><line x1="676.18" y1="14.2" x2="676.18" y2="92.3" class="mj"/><line x1="686.03" y1="14.2" x2="686.03" y2="92.3" class="mj"/>
<line x1="534.68" y1="108.94" x2="583.44" y2="108.94" class="mn"/><line x1="534.68" y1="126.21" x2="583.44" y2="126.21" class="mn"/><line x1="534.68" y1="143.49" x2="583.44" y2="143.49" class="mn"/><line x1="534.68" y1="160.76" x2="583.44" y2="160.76" class="mn"/><line x1="536.9" y1="95.3" x2="536.9" y2="173.4" class="mn"/><line x1="546.75" y1="95.3" x2="546.75" y2="173.4" class="mn"/><line x1="556.6" y1="95.3" x2="556.6" y2="173.4" class="mn"/><line x1="566.45" y1="95.3" x2="566.45" y2="173.4" class="mn"/><line x1="576.3" y1="95.3" x2="576.3" y2="173.4" class="mn"/><line x1="534.68" y1="100.3" x2="583.44" y2="100.3" class="mj"/><line x1="534.68" y1="117.57" x2="583.44" y2="117.57" class="mj"/><line x1="534.68" y1="134.85" x2="583.44" y2="134.85" class="mj"/><line x1="534.68" y1="152.12" x2="583.44" y2="152.12" class="mj"/><line x1="534.68" y1="169.4" x2="583.44" y2="169.4" class="mj"/><line x1="541.82" y1="95.3" x2="541.82" y2="173.4" class="mj"/><line x1="551.67" y1="95.3" x2="551.67" y2="173.4" class="mj"/><line x1="561.52" y1="95.3" x2="561.52" y2="173.4" class="mj"/><line x1="571.38" y1="95.3" x2="571.38" y2="173.4" class="mj"/><line x1="581.23" y1="95.3" x2="581.23" y2="173.4" class="mj"/>
<line x1="587.08" y1="108.94" x2="635.84" y2="108.94" class="mn"/><line x1="587.08" y1="126.21" x2="635.84" y2="126.21" class="mn"/><line x1="587.08" y1="143.49" x2="635.84" y2="143.49" class="mn"/><line x1="587.08" y1="160.76" x2="635.84" y2="160.76" class="mn"/><line x1="589.3" y1="95.3" x2="589.3" y2="173.4" class="mn"/><line x1="599.15" y1="95.3" x2="599.15" y2="173.4" class="mn"/><line x1="609" y1="95.3" x2="609" y2="173.4" class="mn"/><line x1="618.85" y1="95.3" x2="618.85" y2="173.4" class="mn"/><line x1="628.7" y1="95.3" x2="628.7" y2="173.4" class="mn"/><line x1="587.08" y1="100.3" x2="635.84" y2="100.3" class="mj"/><line x1="587.08" y1="117.57" x2="635.84" y2="117.57" class="mj"/><line x1="587.08" y1="134.85" x2="635.84" y2="134.85" class="mj"/><line x1="587.08" y1="152.12" x2="635.84" y2="152.12" class="mj"/><line x1="587.08" y1="169.4" x2="635.84" y2="169.4" class="mj"/><line x1="594.22" y1="95.3" x2="594.22" y2="173.4" class="mj"/><line x1="604.07" y1="95.3" x2="604.07" y2="173.4" class="mj"/><line x1="613.92" y1="95.3" x2="613.92" y2="173.4" class="mj"/><line x1="623.77" y1="95.3" x2="623.77" y2="173.4" class="mj"/><line x1="633.62" y1="95.3" x2="633.62" y2="173.4" class="mj"/>
<line x1="639.48" y1="108.94" x2="688.24" y2="108.94" class="mn"/><line x1="639.48" y1="126.21" x2="688.24" y2="126.21" class="mn"/><line x1="639.48" y1="143.49" x2="688.24" y2="143.49" class="mn"/><line x1="639.48" y1="160.76" x2="688.24" y2="160.76" class="mn"/><line x1="641.7" y1="95.3" x2="641.7" y2="173.4" class="mn"/><line x1="651.55" y1="95.3" x2="651.55" y2="173.4" class="mn"/><line x1="661.4" y1="95.3" x2="661.4" y2="173.4" class="mn"/><line x1="671.25" y1="95.3" x2="671.25" y2="173.4" class="mn"/><line x1="681.1" y1="95.3" x2="681.1" y2="173.4" class="mn"/><line x1="639.48" y1="100.3" x2="688.24" y2="100.3" class="mj"/><line x1="639.48" y1="117.57" x2="688.24" y2="117.57" class="mj"/><line x1="639.48" y1="134.85" x2="688.24" y2="134.85" class="mj"/><line x1="639.48" y1="152.12" x2="688.24" y2="152.12" class="mj"/><line x1="639.48" y1="169.4" x2="688.24" y2="169.4" class="mj"/><line x1="646.62" y1="95.3" x2="646.62" y2="173.4" class="mj"/><line x1="656.48" y1="95.3" x2="656.48" y2="173.4" class="mj"/><line x1="666.33" y1="95.3" x2="666.33" y2="173.4" class="mj"/><line x1="676.18" y1="95.3" x2="676.18" y2="173.4" class="mj"/><line x1="686.03" y1="95.3" x2="686.03" y2="173.4" class="mj"/>
<line x1="534.68" y1="188.64" x2="583.44" y2="188.64" class="mn"/><line x1="534.68" y1="205.91" x2="583.44" y2="205.91" class="mn"/><line x1="534.68" y1="223.19" x2="583.44" y2="223.19" class="mn"/><line x1="534.68" y1="240.46" x2="583.44" y2="240.46" class="mn"/><line x1="536.9" y1="175" x2="536.9" y2="253.1" class="mn"/><line x1="546.75" y1="175" x2="546.75" y2="253.1" class="mn"/><line x1="556.6" y1="175" x2="556.6" y2="253.1" class="mn"/><line x1="566.45" y1="175" x2="566.45" y2="253.1" class="mn"/><line x1="576.3" y1="175" x2="576.3" y2="253.1" class="mn"/><line x1="534.68" y1="180" x2="583.44" y2="180" class="mj"/><line x1="534.68" y1="197.28" x2="583.44" y2="197.28" class="mj"/><line x1="534.68" y1="214.55" x2="583.44" y2="214.55" class="mj"/><line x1="534.68" y1="231.83" x2="583.44" y2="231.83" class="mj"/><line x1="534.68" y1="249.1" x2="583.44" y2="249.1" class="mj"/><line x1="541.82" y1="175" x2="541.82" y2="253.1" class="mj"/><line x1="551.67" y1="175" x2="551.67" y2="253.1" class="mj"/><line x1="561.52" y1="175" x2="561.52" y2="253.1" class="mj"/><line x1="571.38" y1="175" x2="571.38" y2="253.1" class="mj"/><line x1="581.23" y1="175" x2="581.23" y2="253.1" class="mj"/>
<line x1="587.08" y1="188.64" x2="635.84" y2="188.64" class="mn"/><line x1="587.08" y1="205.91" x2="635.84" y2="205.91" class="mn"/><line x1="587.08" y1="223.19" x2="635.84" y2="223.19" class="mn"/><line x1="587.08" y1="240.46" x2="635.84" y2="240.46" class="mn"/><line x1="589.3" y1="175" x2="589.3" y2="253.1" class="mn"/><line x1="599.15" y1="175" x2="599.15" y2="253.1" class="mn"/><line x1="609" y1="175" x2="609" y2="253.1" class="mn"/><line x1="618.85" y1="175" x2="618.85" y2="253.1" class="mn"/><line x1="628.7" y1="175" x2="628.7" y2="253.1" class="mn"/><line x1="587.08" y1="180" x2="635.84" y2="180" class="mj"/><line x1="587.08" y1="197.28" x2="635.84" y2="197.28" class="mj"/><line x1="587.08" y1="214.55" x2="635.84" y2="214.55" class="mj"/><line x1="587.08" y1="231.83" x2="635.84" y2="231.83" class="mj"/><line x1="587.08" y1="249.1" x2="635.84" y2="249.1" class="mj"/><line x1="594.22" y1="175" x2="594.22" y2="253.1" class="mj"/><line x1="604.07" y1="175" x2="604.07" y2="253.1" class="mj"/><line x1="613.92" y1="175" x2="613.92" y2="253.1" class="mj"/><line x1="623.77" y1="175" x2="623.77" y2="253.1" class="mj"/><line x1="633.62" y1="175" x2="633.62" y2="253.1" class="mj"/>
<line x1="639.48" y1="188.64" x2="688.24" y2="188.64" class="mn"/><line x1="639.48" y1="205.91" x2="688.24" y2="205.91" class="mn"/><line x1="639.48" y1="223.19" x2="688.24" y2="223.19" class="mn"/><line x1="639.48" y1="240.46" x2="688.24" y2="240.46" class="mn"/><line x1="641.7" y1="175" x2="641.7" y2="253.1" class="mn"/><line x1="651.55" y1="175" x2="651.55" y2="253.1" class="mn"/><line x1="661.4" y1="175" x2="661.4" y2="253.1" class="mn"/><line x1="671.25" y1="175" x2="671.25" y2="253.1" class="mn"/><line x1="681.1" y1="175" x2="681.1" y2="253.1" class="mn"/><line x1="639.48" y1="180" x2="688.24" y2="180" class="mj"/><line x1="639.48" y1="197.28" x2="688.24" y2="197.28" class="mj"/><line x1="639.48" y1="214.55" x2="688.24" y2="214.55" class="mj"/><line x1="639.48" y1="231.83" x2="688.24" y2="231.83" class="mj"/><line x1="639.48" y1="249.1" x2="688.24" y2="249.1" class="mj"/><line x1="646.62" y1="175" x2="646.62" y2="253.1" class="mj"/><line x1="656.48" y1="175" x2="656.48" y2="253.1" class="mj"/><line x1="666.33" y1="175" x2="666.33" y2="253.1" class="mj"/><line x1="676.18" y1="175" x2="676.18" y2="253.1" class="mj"/><line x1="686.03" y1="175" x2="686.03" y2="253.1" class="mj"/>
<line x1="534.68" y1="269.84" x2="583.44" y2="269.84" class="mn"/><line x1="534.68" y1="287.11" x2="583.44" y2="287.11" class="mn"/><line x1="534.68" y1="304.39" x2="583.44" y2="304.39" class="mn"/><line x1="534.68" y1="321.66" x2="583.44" y2="321.66" class="mn"/><line x1="536.9" y1="256.2" x2="536.9" y2="334.3" class="mn"/><line x1="546.75" y1="256.2" x2="546.75" y2="334.3" class="mn"/><line x1="556.6" y1="256.2" x2="556.6" y2="334.3" class="mn"/><line x1="566.45" y1="256.2" x2="566.45" y2="334.3" class="mn"/><line x1="576.3" y1="256.2" x2="576.3" y2="334.3" class="mn"/><line x1="534.68" y1="261.2" x2="583.44" y2="261.2" class="mj"/><line x1="534.68" y1="278.48" x2="583.44" y2="278.48" class="mj"/><line x1="534.68" y1="295.75" x2="583.44" y2="295.75" class="mj"/><line x1="534.68" y1="313.03" x2="583.44" y2="313.03" class="mj"/><line x1="534.68" y1="330.3" x2="583.44" y2="330.3" class="mj"/><line x1="541.82" y1="256.2" x2="541.82" y2="334.3" class="mj"/><line x1="551.67" y1="256.2" x2="551.67" y2="334.3" class="mj"/><line x1="561.52" y1="256.2" x2="561.52" y2="334.3" class="mj"/><line x1="571.38" y1="256.2" x2="571.38" y2="334.3" class="mj"/><line x1="581.23" y1="256.2" x2="581.23" y2="334.3" class="mj"/>
<line x1="587.08" y1="269.84" x2="635.84" y2="269.84" class="mn"/><line x1="587.08" y1="287.11" x2="635.84" y2="287.11" class="mn"/><line x1="587.08" y1="304.39" x2="635.84" y2="304.39" class="mn"/><line x1="587.08" y1="321.66" x2="635.84" y2="321.66" class="mn"/><line x1="589.3" y1="256.2" x2="589.3" y2="334.3" class="mn"/><line x1="599.15" y1="256.2" x2="599.15" y2="334.3" class="mn"/><line x1="609" y1="256.2" x2="609" y2="334.3" class="mn"/><line x1="618.85" y1="256.2" x2="618.85" y2="334.3" class="mn"/><line x1="628.7" y1="256.2" x2="628.7" y2="334.3" class="mn"/><line x1="587.08" y1="261.2" x2="635.84" y2="261.2" class="mj"/><line x1="587.08" y1="278.48" x2="635.84" y2="278.48" class="mj"/><line x1="587.08" y1="295.75" x2="635.84" y2="295.75" class="mj"/><line x1="587.08" y1="313.03" x2="635.84" y2="313.03" class="mj"/><line x1="587.08" y1="330.3" x2="635.84" y2="330.3" class="mj"/><line x1="594.22" y1="256.2" x2="594.22" y2="334.3" class="mj"/><line x1="604.07" y1="256.2" x2="604.07" y2="334.3" class="mj"/><line x1="613.92" y1="256.2" x2="613.92" y2="334.3" class="mj"/><line x1="623.77" y1="256.2" x2="623.77" y2="334.3" class="mj"/><line x1="633.62" y1="256.2" x2="633.62" y2="334.3" class="mj"/>
<line x1="639.48" y1="269.84" x2="688.24" y2="269.84" class="mn"/><line x1="639.48" y1="287.11" x2="688.24" y2="287.11" class="mn"/><line x1="639.48" y1="304.39" x2="688.24" y2="304.39" class="mn"/><line x1="639.48" y1="321.66" x2="688.24" y2="321.66" class="mn"/><line x1="641.7" y1="256.2" x2="641.7" y2="334.3" class="mn"/><line x1="651.55" y1="256.2" x2="651.55" y2="334.3" class="mn"/><line x1="661.4" y1="256.2" x2="661.4" y2="334.3" class="mn"/><line x1="671.25" y1="256.2" x2="671.25" y2="334.3" class="mn"/><line x1="681.1" y1="256.2" x2="681.1" y2="334.3" class="mn"/><line x1="639.48" y1="261.2" x2="688.24" y2="261.2" class="mj"/><line x1="639.48" y1="278.48" x2="688.24" y2="278.48" class="mj"/><line x1="639.48" y1="295.75" x2="688.24" y2="295.75" class="mj"/><line x1="639.48" y1="313.03" x2="688.24" y2="313.03" class="mj"/><line x1="639.48" y1="330.3" x2="688.24" y2="330.3" class="mj"/><line x1="646.62" y1="256.2" x2="646.62" y2="334.3" class="mj"/><line x1="656.48" y1="256.2" x2="656.48" y2="334.3" class="mj"/><line x1="666.33" y1="256.2" x2="666.33" y2="334.3" class="mj"/><line x1="676.18" y1="256.2" x2="676.18" y2="334.3" class="mj"/><line x1="686.03" y1="256.2" x2="686.03" y2="334.3" class="mj"/>
<polyline points="536.9,49.68 561.52,82.7 581.23,84.02" class="dl" stroke="#5470cc"/>
<polyline points="536.9,82.77 561.52,85.89 581.23,86.58" class="dl" stroke="#e09478"/>
<polyline points="536.9,71.6 561.52,86.23 581.23,86.91" class="dl" stroke="#d84838"/>
<polyline points="536.9,22.9 561.52,78.07 581.23,81.59" class="dl" stroke="#963c96"/>
<polyline points="536.9,82.9 561.52,86.88 581.23,87.24" class="dl" stroke="#3a7a3e"/>
<polyline points="589.3,50.93 613.92,83.12 633.62,84.84" class="dl" stroke="#5470cc"/>
<polyline points="589.3,77.57 613.92,85.88 633.62,86.58" class="dl" stroke="#e09478"/>
<polyline points="589.3,71.07 613.92,86.23 633.62,86.92" class="dl" stroke="#d84838"/>
<polyline points="589.3,17.79 613.92,79.52 633.62,81.18" class="dl" stroke="#963c96"/>
<polyline points="589.3,77.47 613.92,85.51 633.62,86.19" class="dl" stroke="#3a7a3e"/>
<polyline points="641.7,51.57 666.33,82.42 686.03,83.8" class="dl" stroke="#5470cc"/>
<polyline points="641.7,70.3 666.33,84.85 686.03,86.23" class="dl" stroke="#e09478"/>
<polyline points="641.7,70.87 666.33,85.6 686.03,86.72" class="dl" stroke="#d84838"/>
<polyline points="641.7,20.53 666.33,77.71 686.03,82.08" class="dl" stroke="#963c96"/>
<polyline points="641.7,68.36 666.33,81.62 686.03,82.54" class="dl" stroke="#3a7a3e"/>
<polyline points="536.9,157.57 561.52,167.33 581.23,168.02" class="dl" stroke="#5470cc"/>
<polyline points="536.9,165.94 561.52,168.72 581.23,169.06" class="dl" stroke="#e09478"/>
<polyline points="536.9,163.8 561.52,168.72 581.23,169.06" class="dl" stroke="#d84838"/>
<polyline points="536.9,148.58 561.52,165.37 581.23,166.29" class="dl" stroke="#963c96"/>
<polyline points="536.9,167.4 561.52,169.26 581.23,169.4" class="dl" stroke="#3a7a3e"/>
<polyline points="589.3,157.18 613.92,167.33 633.62,168.02" class="dl" stroke="#5470cc"/>
<polyline points="589.3,164.56 613.92,168.37 633.62,169.06" class="dl" stroke="#e09478"/>
<polyline points="589.3,163.58 613.92,168.37 633.62,168.71" class="dl" stroke="#d84838"/>
<polyline points="589.3,146.99 613.92,164.91 633.62,166.64" class="dl" stroke="#963c96"/>
<polyline points="589.3,164.85 613.92,168.97 633.62,169.25" class="dl" stroke="#3a7a3e"/>
<polyline points="641.7,157.16 666.33,166.64 686.03,167.67" class="dl" stroke="#5470cc"/>
<polyline points="641.7,163.18 666.33,167.68 686.03,168.37" class="dl" stroke="#e09478"/>
<polyline points="641.7,163.32 666.33,168.72 686.03,169.27" class="dl" stroke="#d84838"/>
<polyline points="641.7,146.53 666.33,165.12 686.03,166.99" class="dl" stroke="#963c96"/>
<polyline points="641.7,161.92 666.33,166.25 686.03,166.68" class="dl" stroke="#3a7a3e"/>
<polyline points="536.9,241.45 561.52,248.07 581.23,248.55" class="dl" stroke="#5470cc"/>
<polyline points="536.9,246.34 561.52,248.76 581.23,249.1" class="dl" stroke="#e09478"/>
<polyline points="536.9,245.29 561.52,248.76 581.23,249.1" class="dl" stroke="#d84838"/>
<polyline points="536.9,236.1 561.52,247.03 581.23,247.72" class="dl" stroke="#963c96"/>
<polyline points="536.9,247.38 561.52,249.1 581.23,249.1" class="dl" stroke="#3a7a3e"/>
<polyline points="589.3,242.19 613.92,248.07 633.62,248.55" class="dl" stroke="#5470cc"/>
<polyline points="589.3,245.98 613.92,248.76 633.62,248.97" class="dl" stroke="#e09478"/>
<polyline points="589.3,245.58 613.92,248.76 633.62,248.97" class="dl" stroke="#d84838"/>
<polyline points="589.3,235.89 613.92,246.69 633.62,247.72" class="dl" stroke="#963c96"/>
<polyline points="589.3,245.75 613.92,248.97 633.62,249.1" class="dl" stroke="#3a7a3e"/>
<polyline points="641.7,240.79 666.33,247.86 686.03,248.41" class="dl" stroke="#5470cc"/>
<polyline points="641.7,244.81 666.33,248.42 686.03,248.76" class="dl" stroke="#e09478"/>
<polyline points="641.7,245.3 666.33,248.69 686.03,248.97" class="dl" stroke="#d84838"/>
<polyline points="641.7,235.22 666.33,246.69 686.03,247.72" class="dl" stroke="#963c96"/>
<polyline points="641.7,244.14 666.33,247.7 686.03,248.06" class="dl" stroke="#3a7a3e"/>
<polyline points="536.9,326.43 561.52,329.75 581.23,330.3" class="dl" stroke="#5470cc"/>
<polyline points="536.9,328.92 561.52,330.3 581.23,330.3" class="dl" stroke="#e09478"/>
<polyline points="536.9,328.58 561.52,330.3 581.23,330.3" class="dl" stroke="#d84838"/>
<polyline points="536.9,323.66 561.52,329.27 581.23,329.96" class="dl" stroke="#963c96"/>
<polyline points="536.9,329.47 561.52,330.3 581.23,330.3" class="dl" stroke="#3a7a3e"/>
<polyline points="589.3,326.5 613.92,329.75 633.62,330.3" class="dl" stroke="#5470cc"/>
<polyline points="589.3,328.23 613.92,330.17 633.62,330.3" class="dl" stroke="#e09478"/>
<polyline points="589.3,327.89 613.92,330.17 633.62,330.3" class="dl" stroke="#d84838"/>
<polyline points="589.3,323.87 613.92,329.48 633.62,330.17" class="dl" stroke="#963c96"/>
<polyline points="589.3,328.23 613.92,330.3 633.62,330.3" class="dl" stroke="#3a7a3e"/>
<polyline points="641.7,325.81 666.33,329.75 686.03,330.17" class="dl" stroke="#5470cc"/>
<polyline points="641.7,327.88 666.33,330.17 686.03,330.3" class="dl" stroke="#e09478"/>
<polyline points="641.7,327.88 666.33,330.17 686.03,330.3" class="dl" stroke="#d84838"/>
<polyline points="641.7,322.9 666.33,329.27 686.03,329.96" class="dl" stroke="#963c96"/>
<polyline points="641.7,327.67 666.33,329.96 686.03,330.3" class="dl" stroke="#3a7a3e"/>
<circle cx="536.9" cy="49.68" r="1.45" fill="#4a5ab8"/>
<circle cx="561.52" cy="82.7" r="1.45" fill="#4a5ab8"/>
<circle cx="581.23" cy="84.02" r="1.45" fill="#4a5ab8"/>
<circle cx="536.9" cy="82.77" r="1.45" fill="#c87e6c"/>
<circle cx="561.52" cy="85.89" r="1.45" fill="#c87e6c"/>
<circle cx="581.23" cy="86.58" r="1.45" fill="#c87e6c"/>
<circle cx="536.9" cy="71.6" r="1.45" fill="#c21c2c"/>
<circle cx="561.52" cy="86.23" r="1.45" fill="#c21c2c"/>
<circle cx="581.23" cy="86.91" r="1.45" fill="#c21c2c"/>
<circle cx="536.9" cy="22.9" r="1.45" fill="#621c70"/>
<circle cx="561.52" cy="78.07" r="1.45" fill="#621c70"/>
<circle cx="581.23" cy="81.59" r="1.45" fill="#621c70"/>
<circle cx="536.9" cy="82.9" r="1.45" fill="#15341c"/>
<circle cx="561.52" cy="86.88" r="1.45" fill="#15341c"/>
<circle cx="581.23" cy="87.24" r="1.45" fill="#15341c"/>
<circle cx="589.3" cy="50.93" r="1.45" fill="#4a5ab8"/>
<circle cx="613.92" cy="83.12" r="1.45" fill="#4a5ab8"/>
<circle cx="633.62" cy="84.84" r="1.45" fill="#4a5ab8"/>
<circle cx="589.3" cy="77.57" r="1.45" fill="#c87e6c"/>
<circle cx="613.92" cy="85.88" r="1.45" fill="#c87e6c"/>
<circle cx="633.62" cy="86.58" r="1.45" fill="#c87e6c"/>
<circle cx="589.3" cy="71.07" r="1.45" fill="#c21c2c"/>
<circle cx="613.92" cy="86.23" r="1.45" fill="#c21c2c"/>
<circle cx="633.62" cy="86.92" r="1.45" fill="#c21c2c"/>
<circle cx="589.3" cy="17.79" r="1.45" fill="#621c70"/>
<circle cx="613.92" cy="79.52" r="1.45" fill="#621c70"/>
<circle cx="633.62" cy="81.18" r="1.45" fill="#621c70"/>
<circle cx="589.3" cy="77.47" r="1.45" fill="#15341c"/>
<circle cx="613.92" cy="85.51" r="1.45" fill="#15341c"/>
<circle cx="633.62" cy="86.19" r="1.45" fill="#15341c"/>
<circle cx="641.7" cy="51.57" r="1.45" fill="#4a5ab8"/>
<circle cx="666.33" cy="82.42" r="1.45" fill="#4a5ab8"/>
<circle cx="686.03" cy="83.8" r="1.45" fill="#4a5ab8"/>
<circle cx="641.7" cy="70.3" r="1.45" fill="#c87e6c"/>
<circle cx="666.33" cy="84.85" r="1.45" fill="#c87e6c"/>
<circle cx="686.03" cy="86.23" r="1.45" fill="#c87e6c"/>
<circle cx="641.7" cy="70.87" r="1.45" fill="#c21c2c"/>
<circle cx="666.33" cy="85.6" r="1.45" fill="#c21c2c"/>
<circle cx="686.03" cy="86.72" r="1.45" fill="#c21c2c"/>
<circle cx="641.7" cy="20.53" r="1.45" fill="#621c70"/>
<circle cx="666.33" cy="77.71" r="1.45" fill="#621c70"/>
<circle cx="686.03" cy="82.08" r="1.45" fill="#621c70"/>
<circle cx="641.7" cy="68.36" r="1.45" fill="#15341c"/>
<circle cx="666.33" cy="81.62" r="1.45" fill="#15341c"/>
<circle cx="686.03" cy="82.54" r="1.45" fill="#15341c"/>
<circle cx="536.9" cy="157.57" r="1.45" fill="#4a5ab8"/>
<circle cx="561.52" cy="167.33" r="1.45" fill="#4a5ab8"/>
<circle cx="581.23" cy="168.02" r="1.45" fill="#4a5ab8"/>
<circle cx="536.9" cy="165.94" r="1.45" fill="#c87e6c"/>
<circle cx="561.52" cy="168.72" r="1.45" fill="#c87e6c"/>
<circle cx="581.23" cy="169.06" r="1.45" fill="#c87e6c"/>
<circle cx="536.9" cy="163.8" r="1.45" fill="#c21c2c"/>
<circle cx="561.52" cy="168.72" r="1.45" fill="#c21c2c"/>
<circle cx="581.23" cy="169.06" r="1.45" fill="#c21c2c"/>
<circle cx="536.9" cy="148.58" r="1.45" fill="#621c70"/>
<circle cx="561.52" cy="165.37" r="1.45" fill="#621c70"/>
<circle cx="581.23" cy="166.29" r="1.45" fill="#621c70"/>
<circle cx="536.9" cy="167.4" r="1.45" fill="#15341c"/>
<circle cx="561.52" cy="169.26" r="1.45" fill="#15341c"/>
<circle cx="581.23" cy="169.4" r="1.45" fill="#15341c"/>
<circle cx="589.3" cy="157.18" r="1.45" fill="#4a5ab8"/>
<circle cx="613.92" cy="167.33" r="1.45" fill="#4a5ab8"/>
<circle cx="633.62" cy="168.02" r="1.45" fill="#4a5ab8"/>
<circle cx="589.3" cy="164.56" r="1.45" fill="#c87e6c"/>
<circle cx="613.92" cy="168.37" r="1.45" fill="#c87e6c"/>
<circle cx="633.62" cy="169.06" r="1.45" fill="#c87e6c"/>
<circle cx="589.3" cy="163.58" r="1.45" fill="#c21c2c"/>
<circle cx="613.92" cy="168.37" r="1.45" fill="#c21c2c"/>
<circle cx="633.62" cy="168.71" r="1.45" fill="#c21c2c"/>
<circle cx="589.3" cy="146.99" r="1.45" fill="#621c70"/>
<circle cx="613.92" cy="164.91" r="1.45" fill="#621c70"/>
<circle cx="633.62" cy="166.64" r="1.45" fill="#621c70"/>
<circle cx="589.3" cy="164.85" r="1.45" fill="#15341c"/>
<circle cx="613.92" cy="168.97" r="1.45" fill="#15341c"/>
<circle cx="633.62" cy="169.25" r="1.45" fill="#15341c"/>
<circle cx="641.7" cy="157.16" r="1.45" fill="#4a5ab8"/>
<circle cx="666.33" cy="166.64" r="1.45" fill="#4a5ab8"/>
<circle cx="686.03" cy="167.67" r="1.45" fill="#4a5ab8"/>
<circle cx="641.7" cy="163.18" r="1.45" fill="#c87e6c"/>
<circle cx="666.33" cy="167.68" r="1.45" fill="#c87e6c"/>
<circle cx="686.03" cy="168.37" r="1.45" fill="#c87e6c"/>
<circle cx="641.7" cy="163.32" r="1.45" fill="#c21c2c"/>
<circle cx="666.33" cy="168.72" r="1.45" fill="#c21c2c"/>
<circle cx="686.03" cy="169.27" r="1.45" fill="#c21c2c"/>
<circle cx="641.7" cy="146.53" r="1.45" fill="#621c70"/>
<circle cx="666.33" cy="165.12" r="1.45" fill="#621c70"/>
<circle cx="686.03" cy="166.99" r="1.45" fill="#621c70"/>
<circle cx="641.7" cy="161.92" r="1.45" fill="#15341c"/>
<circle cx="666.33" cy="166.25" r="1.45" fill="#15341c"/>
<circle cx="686.03" cy="166.68" r="1.45" fill="#15341c"/>
<circle cx="536.9" cy="241.45" r="1.45" fill="#4a5ab8"/>
<circle cx="561.52" cy="248.07" r="1.45" fill="#4a5ab8"/>
<circle cx="581.23" cy="248.55" r="1.45" fill="#4a5ab8"/>
<circle cx="536.9" cy="246.34" r="1.45" fill="#c87e6c"/>
<circle cx="561.52" cy="248.76" r="1.45" fill="#c87e6c"/>
<circle cx="581.23" cy="249.1" r="1.45" fill="#c87e6c"/>
<circle cx="536.9" cy="245.29" r="1.45" fill="#c21c2c"/>
<circle cx="561.52" cy="248.76" r="1.45" fill="#c21c2c"/>
<circle cx="581.23" cy="249.1" r="1.45" fill="#c21c2c"/>
<circle cx="536.9" cy="236.1" r="1.45" fill="#621c70"/>
<circle cx="561.52" cy="247.03" r="1.45" fill="#621c70"/>
<circle cx="581.23" cy="247.72" r="1.45" fill="#621c70"/>
<circle cx="536.9" cy="247.38" r="1.45" fill="#15341c"/>
<circle cx="561.52" cy="249.1" r="1.45" fill="#15341c"/>
<circle cx="581.23" cy="249.1" r="1.45" fill="#15341c"/>
<circle cx="589.3" cy="242.19" r="1.45" fill="#4a5ab8"/>
<circle cx="613.92" cy="248.07" r="1.45" fill="#4a5ab8"/>
<circle cx="633.62" cy="248.55" r="1.45" fill="#4a5ab8"/>
<circle cx="589.3" cy="245.98" r="1.45" fill="#c87e6c"/>
<circle cx="613.92" cy="248.76" r="1.45" fill="#c87e6c"/>
<circle cx="633.62" cy="248.97" r="1.45" fill="#c87e6c"/>
<circle cx="589.3" cy="245.58" r="1.45" fill="#c21c2c"/>
<circle cx="613.92" cy="248.76" r="1.45" fill="#c21c2c"/>
<circle cx="633.62" cy="248.97" r="1.45" fill="#c21c2c"/>
<circle cx="589.3" cy="235.89" r="1.45" fill="#621c70"/>
<circle cx="613.92" cy="246.69" r="1.45" fill="#621c70"/>
<circle cx="633.62" cy="247.72" r="1.45" fill="#621c70"/>
<circle cx="589.3" cy="245.75" r="1.45" fill="#15341c"/>
<circle cx="613.92" cy="248.97" r="1.45" fill="#15341c"/>
<circle cx="633.62" cy="249.1" r="1.45" fill="#15341c"/>
<circle cx="641.7" cy="240.79" r="1.45" fill="#4a5ab8"/>
<circle cx="666.33" cy="247.86" r="1.45" fill="#4a5ab8"/>
<circle cx="686.03" cy="248.41" r="1.45" fill="#4a5ab8"/>
<circle cx="641.7" cy="244.81" r="1.45" fill="#c87e6c"/>
<circle cx="666.33" cy="248.42" r="1.45" fill="#c87e6c"/>
<circle cx="686.03" cy="248.76" r="1.45" fill="#c87e6c"/>
<circle cx="641.7" cy="245.3" r="1.45" fill="#c21c2c"/>
<circle cx="666.33" cy="248.69" r="1.45" fill="#c21c2c"/>
<circle cx="686.03" cy="248.97" r="1.45" fill="#c21c2c"/>
<circle cx="641.7" cy="235.22" r="1.45" fill="#621c70"/>
<circle cx="666.33" cy="246.69" r="1.45" fill="#621c70"/>
<circle cx="686.03" cy="247.72" r="1.45" fill="#621c70"/>
<circle cx="641.7" cy="244.14" r="1.45" fill="#15341c"/>
<circle cx="666.33" cy="247.7" r="1.45" fill="#15341c"/>
<circle cx="686.03" cy="248.06" r="1.45" fill="#15341c"/>
<circle cx="536.9" cy="326.43" r="1.45" fill="#4a5ab8"/>
<circle cx="561.52" cy="329.75" r="1.45" fill="#4a5ab8"/>
<circle cx="581.23" cy="330.3" r="1.45" fill="#4a5ab8"/>
<circle cx="536.9" cy="328.92" r="1.45" fill="#c87e6c"/>
<circle cx="561.52" cy="330.3" r="1.45" fill="#c87e6c"/>
<circle cx="581.23" cy="330.3" r="1.45" fill="#c87e6c"/>
<circle cx="536.9" cy="328.58" r="1.45" fill="#c21c2c"/>
<circle cx="561.52" cy="330.3" r="1.45" fill="#c21c2c"/>
<circle cx="581.23" cy="330.3" r="1.45" fill="#c21c2c"/>
<circle cx="536.9" cy="323.66" r="1.45" fill="#621c70"/>
<circle cx="561.52" cy="329.27" r="1.45" fill="#621c70"/>
<circle cx="581.23" cy="329.96" r="1.45" fill="#621c70"/>
<circle cx="536.9" cy="329.47" r="1.45" fill="#15341c"/>
<circle cx="561.52" cy="330.3" r="1.45" fill="#15341c"/>
<circle cx="581.23" cy="330.3" r="1.45" fill="#15341c"/>
<circle cx="589.3" cy="326.5" r="1.45" fill="#4a5ab8"/>
<circle cx="613.92" cy="329.75" r="1.45" fill="#4a5ab8"/>
<circle cx="633.62" cy="330.3" r="1.45" fill="#4a5ab8"/>
<circle cx="589.3" cy="328.23" r="1.45" fill="#c87e6c"/>
<circle cx="613.92" cy="330.17" r="1.45" fill="#c87e6c"/>
<circle cx="633.62" cy="330.3" r="1.45" fill="#c87e6c"/>
<circle cx="589.3" cy="327.89" r="1.45" fill="#c21c2c"/>
<circle cx="613.92" cy="330.17" r="1.45" fill="#c21c2c"/>
<circle cx="633.62" cy="330.3" r="1.45" fill="#c21c2c"/>
<circle cx="589.3" cy="323.87" r="1.45" fill="#621c70"/>
<circle cx="613.92" cy="329.48" r="1.45" fill="#621c70"/>
<circle cx="633.62" cy="330.17" r="1.45" fill="#621c70"/>
<circle cx="589.3" cy="328.23" r="1.45" fill="#15341c"/>
<circle cx="613.92" cy="330.3" r="1.45" fill="#15341c"/>
<circle cx="633.62" cy="330.3" r="1.45" fill="#15341c"/>
<circle cx="641.7" cy="325.81" r="1.45" fill="#4a5ab8"/>
<circle cx="666.33" cy="329.75" r="1.45" fill="#4a5ab8"/>
<circle cx="686.03" cy="330.17" r="1.45" fill="#4a5ab8"/>
<circle cx="641.7" cy="327.88" r="1.45" fill="#c87e6c"/>
<circle cx="666.33" cy="330.17" r="1.45" fill="#c87e6c"/>
<circle cx="686.03" cy="330.3" r="1.45" fill="#c87e6c"/>
<circle cx="641.7" cy="327.88" r="1.45" fill="#c21c2c"/>
<circle cx="666.33" cy="330.17" r="1.45" fill="#c21c2c"/>
<circle cx="686.03" cy="330.3" r="1.45" fill="#c21c2c"/>
<circle cx="641.7" cy="322.9" r="1.45" fill="#621c70"/>
<circle cx="666.33" cy="329.27" r="1.45" fill="#621c70"/>
<circle cx="686.03" cy="329.96" r="1.45" fill="#621c70"/>
<circle cx="641.7" cy="327.67" r="1.45" fill="#15341c"/>
<circle cx="666.33" cy="329.96" r="1.45" fill="#15341c"/>
<circle cx="686.03" cy="330.3" r="1.45" fill="#15341c"/>
<text transform="translate(530.8,19.5) scale(1,1.15)" class="tk" text-anchor="end" y="2.05">0.100</text>
<text transform="translate(530.8,36.77) scale(1,1.15)" class="tk" text-anchor="end" y="2.05">0.075</text>
<text transform="translate(530.8,54.05) scale(1,1.15)" class="tk" text-anchor="end" y="2.05">0.050</text>
<text transform="translate(530.8,71.32) scale(1,1.15)" class="tk" text-anchor="end" y="2.05">0.025</text>
<text transform="translate(530.8,88.6) scale(1,1.15)" class="tk" text-anchor="end" y="2.05">0.000</text>
<text transform="translate(530.8,100.6) scale(1,1.15)" class="tk" text-anchor="end" y="2.05">0.100</text>
<text transform="translate(530.8,117.87) scale(1,1.15)" class="tk" text-anchor="end" y="2.05">0.075</text>
<text transform="translate(530.8,135.15) scale(1,1.15)" class="tk" text-anchor="end" y="2.05">0.050</text>
<text transform="translate(530.8,152.42) scale(1,1.15)" class="tk" text-anchor="end" y="2.05">0.025</text>
<text transform="translate(530.8,169.7) scale(1,1.15)" class="tk" text-anchor="end" y="2.05">0.000</text>
<text transform="translate(530.8,180.3) scale(1,1.15)" class="tk" text-anchor="end" y="2.05">0.100</text>
<text transform="translate(530.8,197.58) scale(1,1.15)" class="tk" text-anchor="end" y="2.05">0.075</text>
<text transform="translate(530.8,214.85) scale(1,1.15)" class="tk" text-anchor="end" y="2.05">0.050</text>
<text transform="translate(530.8,232.13) scale(1,1.15)" class="tk" text-anchor="end" y="2.05">0.025</text>
<text transform="translate(530.8,249.4) scale(1,1.15)" class="tk" text-anchor="end" y="2.05">0.000</text>
<text transform="translate(530.8,261.5) scale(1,1.15)" class="tk" text-anchor="end" y="2.05">0.100</text>
<text transform="translate(530.8,278.78) scale(1,1.15)" class="tk" text-anchor="end" y="2.05">0.075</text>
<text transform="translate(530.8,296.05) scale(1,1.15)" class="tk" text-anchor="end" y="2.05">0.050</text>
<text transform="translate(530.8,313.33) scale(1,1.15)" class="tk" text-anchor="end" y="2.05">0.025</text>
<text transform="translate(530.8,330.6) scale(1,1.15)" class="tk" text-anchor="end" y="2.05">0.000</text>
<text transform="translate(541.82,338.9) scale(1,1.15)" class="tk" text-anchor="middle" y="2.05">10</text>
<text transform="translate(551.67,338.9) scale(1,1.15)" class="tk" text-anchor="middle" y="2.05">20</text>
<text transform="translate(561.52,338.9) scale(1,1.15)" class="tk" text-anchor="middle" y="2.05">30</text>
<text transform="translate(571.38,338.9) scale(1,1.15)" class="tk" text-anchor="middle" y="2.05">40</text>
<text transform="translate(581.23,338.9) scale(1,1.15)" class="tk" text-anchor="middle" y="2.05">50</text>
<text transform="translate(594.22,338.9) scale(1,1.15)" class="tk" text-anchor="middle" y="2.05">10</text>
<text transform="translate(604.07,338.9) scale(1,1.15)" class="tk" text-anchor="middle" y="2.05">20</text>
<text transform="translate(613.92,338.9) scale(1,1.15)" class="tk" text-anchor="middle" y="2.05">30</text>
<text transform="translate(623.77,338.9) scale(1,1.15)" class="tk" text-anchor="middle" y="2.05">40</text>
<text transform="translate(633.62,338.9) scale(1,1.15)" class="tk" text-anchor="middle" y="2.05">50</text>
<text transform="translate(646.62,338.9) scale(1,1.15)" class="tk" text-anchor="middle" y="2.05">10</text>
<text transform="translate(656.48,338.9) scale(1,1.15)" class="tk" text-anchor="middle" y="2.05">20</text>
<text transform="translate(666.33,338.9) scale(1,1.15)" class="tk" text-anchor="middle" y="2.05">30</text>
<text transform="translate(676.18,338.9) scale(1,1.15)" class="tk" text-anchor="middle" y="2.05">40</text>
<text transform="translate(686.03,338.9) scale(1,1.15)" class="tk" text-anchor="middle" y="2.05">50</text>
<g transform="translate(559.06,0)"><text x="-13.9" y="7.6" class="st" style="font-size:5.4px;stroke-width:0.1">σ</text><text x="-10.4" y="3.6" class="st" style="font-size:3.7px;stroke-width:0.08">2</text><text x="-10.7" y="10.4" class="st" style="font-size:3.3px;stroke-width:0.05">u</text><text x="-8.9" y="11.2" class="st" style="font-size:2.5px;stroke-width:0.05">0</text><path d="M-3.4 5.3H-0.7M-3.4 6.7H-0.7" stroke="#333" stroke-width="0.6"/><text transform="translate(1.0,5.8) scale(1,1.12)" y="2.1" class="st">0.05</text></g>
<g transform="translate(611.46,0)"><text x="-13.9" y="7.6" class="st" style="font-size:5.4px;stroke-width:0.1">σ</text><text x="-10.4" y="3.6" class="st" style="font-size:3.7px;stroke-width:0.08">2</text><text x="-10.7" y="10.4" class="st" style="font-size:3.3px;stroke-width:0.05">u</text><text x="-8.9" y="11.2" class="st" style="font-size:2.5px;stroke-width:0.05">0</text><path d="M-3.4 5.3H-0.7M-3.4 6.7H-0.7" stroke="#333" stroke-width="0.6"/><text transform="translate(1.0,5.8) scale(1,1.12)" y="2.1" class="st">0.11</text></g>
<g transform="translate(663.86,0)"><text x="-13.9" y="7.6" class="st" style="font-size:5.4px;stroke-width:0.1">σ</text><text x="-10.4" y="3.6" class="st" style="font-size:3.7px;stroke-width:0.08">2</text><text x="-10.7" y="10.4" class="st" style="font-size:3.3px;stroke-width:0.05">u</text><text x="-8.9" y="11.2" class="st" style="font-size:2.5px;stroke-width:0.05">0</text><path d="M-3.4 5.3H-0.7M-3.4 6.7H-0.7" stroke="#333" stroke-width="0.6"/><text transform="translate(1.0,5.8) scale(1,1.12)" y="2.1" class="st">0.18</text></g>
<text transform="translate(691,53.25) rotate(90) scale(1,1.22)" class="st" text-anchor="middle" y="0">J = 10</text>
<text transform="translate(691,134.35) rotate(90) scale(1,1.22)" class="st" text-anchor="middle" y="0">J = 30</text>
<text transform="translate(691,214.05) rotate(90) scale(1,1.22)" class="st" text-anchor="middle" y="0">J = 50</text>
<text transform="translate(691,295.25) rotate(90) scale(1,1.22)" class="st" text-anchor="middle" y="0">J = 100</text>
<text transform="translate(512.6,174.2) rotate(-90)" class="at" text-anchor="middle">Accuracy</text>
<text x="611.46" y="349.9" class="at" style="font-size:7.18px" text-anchor="middle">Sample size in each group (N<tspan font-size="5" dy="1.5">j</tspan><tspan dy="-1.5"> = 5, 30, 50)</tspan></text>
<text x="710.9" y="146.3" class="lt">Parameters</text>
<line x1="711.5" y1="156.2" x2="721" y2="156.2" class="dl" style="stroke-width:0.9;stroke-dasharray:2.1 1.6" stroke="#5470cc"/>
<circle cx="716.1" cy="156.2" r="1.2" fill="#4a5ab8"/>
<text x="726.9" y="158.9" class="ll">β<tspan font-size="4.3" dy="1.5">0</tspan></text>
<line x1="711.5" y1="167.57" x2="721" y2="167.57" class="dl" style="stroke-width:0.9;stroke-dasharray:2.1 1.6" stroke="#e09478"/>
<circle cx="716.1" cy="167.57" r="1.2" fill="#c87e6c"/>
<text x="726.9" y="170.27" class="ll">β<tspan font-size="4.3" dy="1.5">1</tspan></text>
<line x1="711.5" y1="178.94" x2="721" y2="178.94" class="dl" style="stroke-width:0.9;stroke-dasharray:2.1 1.6" stroke="#d84838"/>
<circle cx="716.1" cy="178.94" r="1.2" fill="#c21c2c"/>
<text x="726.9" y="181.64" class="ll">β<tspan font-size="4.3" dy="1.5">2</tspan></text>
<line x1="711.5" y1="190.31" x2="721" y2="190.31" class="dl" style="stroke-width:0.9;stroke-dasharray:2.1 1.6" stroke="#963c96"/>
<circle cx="716.1" cy="190.31" r="1.2" fill="#621c70"/>
<text x="726.9" y="193.01" class="ll">β<tspan font-size="4.3" dy="1.5">3</tspan></text>
<line x1="711.5" y1="201.68" x2="721" y2="201.68" class="dl" style="stroke-width:0.9;stroke-dasharray:2.1 1.6" stroke="#3a7a3e"/>
<circle cx="716.1" cy="201.68" r="1.2" fill="#15341c"/>
<text x="725.4" y="204.08" class="ll">σ</text><text x="728.8" y="199.98" class="ll" style="font-size:3.7px">2</text><text x="728.8" y="206.28" class="ll" style="font-size:3.3px">u</text><text x="730.7" y="208.18" class="ll" style="font-size:2.5px">0</text>
</svg></body></html>
